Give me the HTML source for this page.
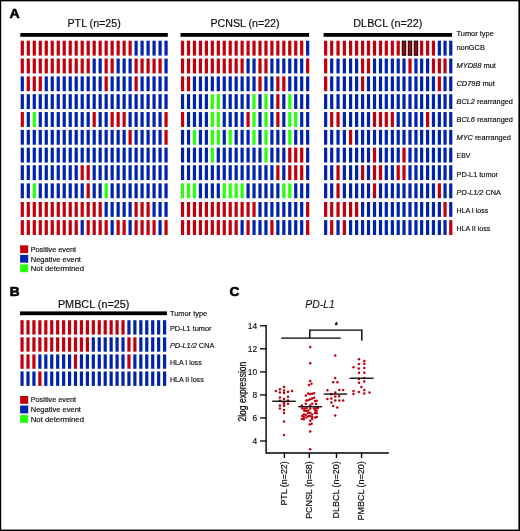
<!DOCTYPE html>
<html lang="en">
<head>
<meta charset="utf-8">
<title>Figure: tumor characteristics and PD-L1 expression</title>
<style>
html,body{margin:0;padding:0;background:#fff;}
body{width:520px;height:531px;overflow:hidden;}
svg{display:block;font-family:"Liberation Sans", sans-serif;}
</style>
</head>
<body>
<svg width="520" height="531" viewBox="0 0 520 531">
<rect x="0" y="0" width="520" height="531" fill="#fff"/>
<rect x="0" y="0" width="520" height="1.35" fill="#000"/>
<rect x="0" y="0" width="1.2" height="531" fill="#000"/>
<rect x="518.4" y="0" width="1.6" height="531" fill="#000"/>
<rect x="0" y="529.55" width="520" height="1.45" fill="#000"/>
<text transform="translate(9.40,18.40) scale(0.14124,0.13000)" font-size="100" font-weight="bold" font-style="normal" fill="#000" stroke="#000" stroke-width="4.6" stroke-linejoin="round" >A</text>
<rect x="20.3" y="33" width="147.50" height="3.8" fill="#000"/>
<text transform="translate(67.50,27.30) scale(0.10674,0.11700)" font-size="100" font-weight="normal" font-style="normal" fill="#111" stroke="#111" stroke-width="1.7" stroke-linejoin="round" >PTL (n=25)</text>
<rect x="180.5" y="33" width="128.60" height="3.8" fill="#000"/>
<text transform="translate(210.50,27.30) scale(0.10641,0.11700)" font-size="100" font-weight="normal" font-style="normal" fill="#111" stroke="#111" stroke-width="1.7" stroke-linejoin="round" >PCNSL (n=22)</text>
<rect x="323.6" y="33" width="128.50" height="3.8" fill="#000"/>
<text transform="translate(353.30,27.30) scale(0.10841,0.11700)" font-size="100" font-weight="normal" font-style="normal" fill="#111" stroke="#111" stroke-width="1.7" stroke-linejoin="round" >DLBCL (n=22)</text>
<rect x="20.70" y="40.70" width="3.2" height="14.9" fill="#c0000c"/>
<rect x="26.69" y="40.70" width="3.2" height="14.9" fill="#c0000c"/>
<rect x="32.68" y="40.70" width="3.2" height="14.9" fill="#c0000c"/>
<rect x="38.67" y="40.70" width="3.2" height="14.9" fill="#c0000c"/>
<rect x="44.66" y="40.70" width="3.2" height="14.9" fill="#c0000c"/>
<rect x="50.65" y="40.70" width="3.2" height="14.9" fill="#c0000c"/>
<rect x="56.64" y="40.70" width="3.2" height="14.9" fill="#c0000c"/>
<rect x="62.63" y="40.70" width="3.2" height="14.9" fill="#c0000c"/>
<rect x="68.62" y="40.70" width="3.2" height="14.9" fill="#c0000c"/>
<rect x="74.61" y="40.70" width="3.2" height="14.9" fill="#c0000c"/>
<rect x="80.60" y="40.70" width="3.2" height="14.9" fill="#c0000c"/>
<rect x="86.59" y="40.70" width="3.2" height="14.9" fill="#c0000c"/>
<rect x="92.58" y="40.70" width="3.2" height="14.9" fill="#c0000c"/>
<rect x="98.57" y="40.70" width="3.2" height="14.9" fill="#c0000c"/>
<rect x="104.56" y="40.70" width="3.2" height="14.9" fill="#c0000c"/>
<rect x="110.55" y="40.70" width="3.2" height="14.9" fill="#c0000c"/>
<rect x="116.54" y="40.70" width="3.2" height="14.9" fill="#c0000c"/>
<rect x="122.53" y="40.70" width="3.2" height="14.9" fill="#c0000c"/>
<rect x="128.52" y="40.70" width="3.2" height="14.9" fill="#c0000c"/>
<rect x="134.51" y="40.70" width="3.2" height="14.9" fill="#0023ac"/>
<rect x="140.50" y="40.70" width="3.2" height="14.9" fill="#0023ac"/>
<rect x="146.49" y="40.70" width="3.2" height="14.9" fill="#0023ac"/>
<rect x="152.48" y="40.70" width="3.2" height="14.9" fill="#0023ac"/>
<rect x="158.47" y="40.70" width="3.2" height="14.9" fill="#0023ac"/>
<rect x="164.46" y="40.70" width="3.2" height="14.9" fill="#0023ac"/>
<rect x="20.70" y="58.50" width="3.2" height="14.9" fill="#c0000c"/>
<rect x="26.69" y="58.50" width="3.2" height="14.9" fill="#c0000c"/>
<rect x="32.68" y="58.50" width="3.2" height="14.9" fill="#c0000c"/>
<rect x="38.67" y="58.50" width="3.2" height="14.9" fill="#c0000c"/>
<rect x="44.66" y="58.50" width="3.2" height="14.9" fill="#c0000c"/>
<rect x="50.65" y="58.50" width="3.2" height="14.9" fill="#c0000c"/>
<rect x="56.64" y="58.50" width="3.2" height="14.9" fill="#c0000c"/>
<rect x="62.63" y="58.50" width="3.2" height="14.9" fill="#c0000c"/>
<rect x="68.62" y="58.50" width="3.2" height="14.9" fill="#c0000c"/>
<rect x="74.61" y="58.50" width="3.2" height="14.9" fill="#c0000c"/>
<rect x="80.60" y="58.50" width="3.2" height="14.9" fill="#c0000c"/>
<rect x="86.59" y="58.50" width="3.2" height="14.9" fill="#c0000c"/>
<rect x="92.58" y="58.50" width="3.2" height="14.9" fill="#0023ac"/>
<rect x="98.57" y="58.50" width="3.2" height="14.9" fill="#0023ac"/>
<rect x="104.56" y="58.50" width="3.2" height="14.9" fill="#c0000c"/>
<rect x="110.55" y="58.50" width="3.2" height="14.9" fill="#c0000c"/>
<rect x="116.54" y="58.50" width="3.2" height="14.9" fill="#0023ac"/>
<rect x="122.53" y="58.50" width="3.2" height="14.9" fill="#0023ac"/>
<rect x="128.52" y="58.50" width="3.2" height="14.9" fill="#0023ac"/>
<rect x="134.51" y="58.50" width="3.2" height="14.9" fill="#c0000c"/>
<rect x="140.50" y="58.50" width="3.2" height="14.9" fill="#c0000c"/>
<rect x="146.49" y="58.50" width="3.2" height="14.9" fill="#c0000c"/>
<rect x="152.48" y="58.50" width="3.2" height="14.9" fill="#c0000c"/>
<rect x="158.47" y="58.50" width="3.2" height="14.9" fill="#c0000c"/>
<rect x="164.46" y="58.50" width="3.2" height="14.9" fill="#0023ac"/>
<rect x="20.70" y="76.35" width="3.2" height="14.9" fill="#0023ac"/>
<rect x="26.69" y="76.35" width="3.2" height="14.9" fill="#c0000c"/>
<rect x="32.68" y="76.35" width="3.2" height="14.9" fill="#c0000c"/>
<rect x="38.67" y="76.35" width="3.2" height="14.9" fill="#c0000c"/>
<rect x="44.66" y="76.35" width="3.2" height="14.9" fill="#0023ac"/>
<rect x="50.65" y="76.35" width="3.2" height="14.9" fill="#0023ac"/>
<rect x="56.64" y="76.35" width="3.2" height="14.9" fill="#0023ac"/>
<rect x="62.63" y="76.35" width="3.2" height="14.9" fill="#0023ac"/>
<rect x="68.62" y="76.35" width="3.2" height="14.9" fill="#0023ac"/>
<rect x="74.61" y="76.35" width="3.2" height="14.9" fill="#0023ac"/>
<rect x="80.60" y="76.35" width="3.2" height="14.9" fill="#0023ac"/>
<rect x="86.59" y="76.35" width="3.2" height="14.9" fill="#0023ac"/>
<rect x="92.58" y="76.35" width="3.2" height="14.9" fill="#0023ac"/>
<rect x="98.57" y="76.35" width="3.2" height="14.9" fill="#0023ac"/>
<rect x="104.56" y="76.35" width="3.2" height="14.9" fill="#c0000c"/>
<rect x="110.55" y="76.35" width="3.2" height="14.9" fill="#0023ac"/>
<rect x="116.54" y="76.35" width="3.2" height="14.9" fill="#0023ac"/>
<rect x="122.53" y="76.35" width="3.2" height="14.9" fill="#0023ac"/>
<rect x="128.52" y="76.35" width="3.2" height="14.9" fill="#0023ac"/>
<rect x="134.51" y="76.35" width="3.2" height="14.9" fill="#c0000c"/>
<rect x="140.50" y="76.35" width="3.2" height="14.9" fill="#0023ac"/>
<rect x="146.49" y="76.35" width="3.2" height="14.9" fill="#0023ac"/>
<rect x="152.48" y="76.35" width="3.2" height="14.9" fill="#0023ac"/>
<rect x="158.47" y="76.35" width="3.2" height="14.9" fill="#0023ac"/>
<rect x="164.46" y="76.35" width="3.2" height="14.9" fill="#0023ac"/>
<rect x="20.70" y="94.15" width="3.2" height="14.9" fill="#0023ac"/>
<rect x="26.69" y="94.15" width="3.2" height="14.9" fill="#0023ac"/>
<rect x="32.68" y="94.15" width="3.2" height="14.9" fill="#0023ac"/>
<rect x="38.67" y="94.15" width="3.2" height="14.9" fill="#0023ac"/>
<rect x="44.66" y="94.15" width="3.2" height="14.9" fill="#0023ac"/>
<rect x="50.65" y="94.15" width="3.2" height="14.9" fill="#0023ac"/>
<rect x="56.64" y="94.15" width="3.2" height="14.9" fill="#0023ac"/>
<rect x="62.63" y="94.15" width="3.2" height="14.9" fill="#0023ac"/>
<rect x="68.62" y="94.15" width="3.2" height="14.9" fill="#0023ac"/>
<rect x="74.61" y="94.15" width="3.2" height="14.9" fill="#0023ac"/>
<rect x="80.60" y="94.15" width="3.2" height="14.9" fill="#0023ac"/>
<rect x="86.59" y="94.15" width="3.2" height="14.9" fill="#0023ac"/>
<rect x="92.58" y="94.15" width="3.2" height="14.9" fill="#0023ac"/>
<rect x="98.57" y="94.15" width="3.2" height="14.9" fill="#0023ac"/>
<rect x="104.56" y="94.15" width="3.2" height="14.9" fill="#0023ac"/>
<rect x="110.55" y="94.15" width="3.2" height="14.9" fill="#0023ac"/>
<rect x="116.54" y="94.15" width="3.2" height="14.9" fill="#0023ac"/>
<rect x="122.53" y="94.15" width="3.2" height="14.9" fill="#0023ac"/>
<rect x="128.52" y="94.15" width="3.2" height="14.9" fill="#0023ac"/>
<rect x="134.51" y="94.15" width="3.2" height="14.9" fill="#0023ac"/>
<rect x="140.50" y="94.15" width="3.2" height="14.9" fill="#0023ac"/>
<rect x="146.49" y="94.15" width="3.2" height="14.9" fill="#0023ac"/>
<rect x="152.48" y="94.15" width="3.2" height="14.9" fill="#0023ac"/>
<rect x="158.47" y="94.15" width="3.2" height="14.9" fill="#0023ac"/>
<rect x="164.46" y="94.15" width="3.2" height="14.9" fill="#0023ac"/>
<rect x="20.70" y="112.05" width="3.2" height="14.9" fill="#c0000c"/>
<rect x="26.69" y="112.05" width="3.2" height="14.9" fill="#0023ac"/>
<rect x="32.68" y="112.05" width="3.2" height="14.9" fill="#28ff0c"/>
<rect x="38.67" y="112.05" width="3.2" height="14.9" fill="#0023ac"/>
<rect x="44.66" y="112.05" width="3.2" height="14.9" fill="#0023ac"/>
<rect x="50.65" y="112.05" width="3.2" height="14.9" fill="#0023ac"/>
<rect x="56.64" y="112.05" width="3.2" height="14.9" fill="#0023ac"/>
<rect x="62.63" y="112.05" width="3.2" height="14.9" fill="#0023ac"/>
<rect x="68.62" y="112.05" width="3.2" height="14.9" fill="#0023ac"/>
<rect x="74.61" y="112.05" width="3.2" height="14.9" fill="#0023ac"/>
<rect x="80.60" y="112.05" width="3.2" height="14.9" fill="#0023ac"/>
<rect x="86.59" y="112.05" width="3.2" height="14.9" fill="#0023ac"/>
<rect x="92.58" y="112.05" width="3.2" height="14.9" fill="#c0000c"/>
<rect x="98.57" y="112.05" width="3.2" height="14.9" fill="#0023ac"/>
<rect x="104.56" y="112.05" width="3.2" height="14.9" fill="#0023ac"/>
<rect x="110.55" y="112.05" width="3.2" height="14.9" fill="#c0000c"/>
<rect x="116.54" y="112.05" width="3.2" height="14.9" fill="#c0000c"/>
<rect x="122.53" y="112.05" width="3.2" height="14.9" fill="#c0000c"/>
<rect x="128.52" y="112.05" width="3.2" height="14.9" fill="#0023ac"/>
<rect x="134.51" y="112.05" width="3.2" height="14.9" fill="#0023ac"/>
<rect x="140.50" y="112.05" width="3.2" height="14.9" fill="#0023ac"/>
<rect x="146.49" y="112.05" width="3.2" height="14.9" fill="#0023ac"/>
<rect x="152.48" y="112.05" width="3.2" height="14.9" fill="#0023ac"/>
<rect x="158.47" y="112.05" width="3.2" height="14.9" fill="#0023ac"/>
<rect x="164.46" y="112.05" width="3.2" height="14.9" fill="#c0000c"/>
<rect x="20.70" y="129.85" width="3.2" height="14.9" fill="#0023ac"/>
<rect x="26.69" y="129.85" width="3.2" height="14.9" fill="#0023ac"/>
<rect x="32.68" y="129.85" width="3.2" height="14.9" fill="#0023ac"/>
<rect x="38.67" y="129.85" width="3.2" height="14.9" fill="#0023ac"/>
<rect x="44.66" y="129.85" width="3.2" height="14.9" fill="#0023ac"/>
<rect x="50.65" y="129.85" width="3.2" height="14.9" fill="#0023ac"/>
<rect x="56.64" y="129.85" width="3.2" height="14.9" fill="#0023ac"/>
<rect x="62.63" y="129.85" width="3.2" height="14.9" fill="#0023ac"/>
<rect x="68.62" y="129.85" width="3.2" height="14.9" fill="#0023ac"/>
<rect x="74.61" y="129.85" width="3.2" height="14.9" fill="#0023ac"/>
<rect x="80.60" y="129.85" width="3.2" height="14.9" fill="#0023ac"/>
<rect x="86.59" y="129.85" width="3.2" height="14.9" fill="#0023ac"/>
<rect x="92.58" y="129.85" width="3.2" height="14.9" fill="#0023ac"/>
<rect x="98.57" y="129.85" width="3.2" height="14.9" fill="#0023ac"/>
<rect x="104.56" y="129.85" width="3.2" height="14.9" fill="#0023ac"/>
<rect x="110.55" y="129.85" width="3.2" height="14.9" fill="#0023ac"/>
<rect x="116.54" y="129.85" width="3.2" height="14.9" fill="#0023ac"/>
<rect x="122.53" y="129.85" width="3.2" height="14.9" fill="#0023ac"/>
<rect x="128.52" y="129.85" width="3.2" height="14.9" fill="#c0000c"/>
<rect x="134.51" y="129.85" width="3.2" height="14.9" fill="#0023ac"/>
<rect x="140.50" y="129.85" width="3.2" height="14.9" fill="#0023ac"/>
<rect x="146.49" y="129.85" width="3.2" height="14.9" fill="#0023ac"/>
<rect x="152.48" y="129.85" width="3.2" height="14.9" fill="#0023ac"/>
<rect x="158.47" y="129.85" width="3.2" height="14.9" fill="#0023ac"/>
<rect x="164.46" y="129.85" width="3.2" height="14.9" fill="#c0000c"/>
<rect x="20.70" y="147.65" width="3.2" height="14.9" fill="#0023ac"/>
<rect x="26.69" y="147.65" width="3.2" height="14.9" fill="#0023ac"/>
<rect x="32.68" y="147.65" width="3.2" height="14.9" fill="#0023ac"/>
<rect x="38.67" y="147.65" width="3.2" height="14.9" fill="#0023ac"/>
<rect x="44.66" y="147.65" width="3.2" height="14.9" fill="#0023ac"/>
<rect x="50.65" y="147.65" width="3.2" height="14.9" fill="#0023ac"/>
<rect x="56.64" y="147.65" width="3.2" height="14.9" fill="#0023ac"/>
<rect x="62.63" y="147.65" width="3.2" height="14.9" fill="#0023ac"/>
<rect x="68.62" y="147.65" width="3.2" height="14.9" fill="#0023ac"/>
<rect x="74.61" y="147.65" width="3.2" height="14.9" fill="#0023ac"/>
<rect x="80.60" y="147.65" width="3.2" height="14.9" fill="#0023ac"/>
<rect x="86.59" y="147.65" width="3.2" height="14.9" fill="#0023ac"/>
<rect x="92.58" y="147.65" width="3.2" height="14.9" fill="#0023ac"/>
<rect x="98.57" y="147.65" width="3.2" height="14.9" fill="#0023ac"/>
<rect x="104.56" y="147.65" width="3.2" height="14.9" fill="#0023ac"/>
<rect x="110.55" y="147.65" width="3.2" height="14.9" fill="#0023ac"/>
<rect x="116.54" y="147.65" width="3.2" height="14.9" fill="#0023ac"/>
<rect x="122.53" y="147.65" width="3.2" height="14.9" fill="#0023ac"/>
<rect x="128.52" y="147.65" width="3.2" height="14.9" fill="#0023ac"/>
<rect x="134.51" y="147.65" width="3.2" height="14.9" fill="#0023ac"/>
<rect x="140.50" y="147.65" width="3.2" height="14.9" fill="#0023ac"/>
<rect x="146.49" y="147.65" width="3.2" height="14.9" fill="#0023ac"/>
<rect x="152.48" y="147.65" width="3.2" height="14.9" fill="#0023ac"/>
<rect x="158.47" y="147.65" width="3.2" height="14.9" fill="#0023ac"/>
<rect x="164.46" y="147.65" width="3.2" height="14.9" fill="#0023ac"/>
<rect x="20.70" y="165.20" width="3.2" height="14.9" fill="#0023ac"/>
<rect x="26.69" y="165.20" width="3.2" height="14.9" fill="#0023ac"/>
<rect x="32.68" y="165.20" width="3.2" height="14.9" fill="#0023ac"/>
<rect x="38.67" y="165.20" width="3.2" height="14.9" fill="#0023ac"/>
<rect x="44.66" y="165.20" width="3.2" height="14.9" fill="#0023ac"/>
<rect x="50.65" y="165.20" width="3.2" height="14.9" fill="#0023ac"/>
<rect x="56.64" y="165.20" width="3.2" height="14.9" fill="#0023ac"/>
<rect x="62.63" y="165.20" width="3.2" height="14.9" fill="#0023ac"/>
<rect x="68.62" y="165.20" width="3.2" height="14.9" fill="#0023ac"/>
<rect x="74.61" y="165.20" width="3.2" height="14.9" fill="#0023ac"/>
<rect x="80.60" y="165.20" width="3.2" height="14.9" fill="#c0000c"/>
<rect x="86.59" y="165.20" width="3.2" height="14.9" fill="#c0000c"/>
<rect x="92.58" y="165.20" width="3.2" height="14.9" fill="#0023ac"/>
<rect x="98.57" y="165.20" width="3.2" height="14.9" fill="#0023ac"/>
<rect x="104.56" y="165.20" width="3.2" height="14.9" fill="#0023ac"/>
<rect x="110.55" y="165.20" width="3.2" height="14.9" fill="#0023ac"/>
<rect x="116.54" y="165.20" width="3.2" height="14.9" fill="#0023ac"/>
<rect x="122.53" y="165.20" width="3.2" height="14.9" fill="#0023ac"/>
<rect x="128.52" y="165.20" width="3.2" height="14.9" fill="#0023ac"/>
<rect x="134.51" y="165.20" width="3.2" height="14.9" fill="#0023ac"/>
<rect x="140.50" y="165.20" width="3.2" height="14.9" fill="#0023ac"/>
<rect x="146.49" y="165.20" width="3.2" height="14.9" fill="#0023ac"/>
<rect x="152.48" y="165.20" width="3.2" height="14.9" fill="#0023ac"/>
<rect x="158.47" y="165.20" width="3.2" height="14.9" fill="#0023ac"/>
<rect x="164.46" y="165.20" width="3.2" height="14.9" fill="#0023ac"/>
<rect x="20.70" y="183.35" width="3.2" height="14.9" fill="#0023ac"/>
<rect x="26.69" y="183.35" width="3.2" height="14.9" fill="#0023ac"/>
<rect x="32.68" y="183.35" width="3.2" height="14.9" fill="#28ff0c"/>
<rect x="38.67" y="183.35" width="3.2" height="14.9" fill="#0023ac"/>
<rect x="44.66" y="183.35" width="3.2" height="14.9" fill="#0023ac"/>
<rect x="50.65" y="183.35" width="3.2" height="14.9" fill="#0023ac"/>
<rect x="56.64" y="183.35" width="3.2" height="14.9" fill="#0023ac"/>
<rect x="62.63" y="183.35" width="3.2" height="14.9" fill="#0023ac"/>
<rect x="68.62" y="183.35" width="3.2" height="14.9" fill="#0023ac"/>
<rect x="74.61" y="183.35" width="3.2" height="14.9" fill="#0023ac"/>
<rect x="80.60" y="183.35" width="3.2" height="14.9" fill="#0023ac"/>
<rect x="86.59" y="183.35" width="3.2" height="14.9" fill="#c0000c"/>
<rect x="92.58" y="183.35" width="3.2" height="14.9" fill="#0023ac"/>
<rect x="98.57" y="183.35" width="3.2" height="14.9" fill="#0023ac"/>
<rect x="104.56" y="183.35" width="3.2" height="14.9" fill="#28ff0c"/>
<rect x="110.55" y="183.35" width="3.2" height="14.9" fill="#0023ac"/>
<rect x="116.54" y="183.35" width="3.2" height="14.9" fill="#0023ac"/>
<rect x="122.53" y="183.35" width="3.2" height="14.9" fill="#0023ac"/>
<rect x="128.52" y="183.35" width="3.2" height="14.9" fill="#0023ac"/>
<rect x="134.51" y="183.35" width="3.2" height="14.9" fill="#0023ac"/>
<rect x="140.50" y="183.35" width="3.2" height="14.9" fill="#0023ac"/>
<rect x="146.49" y="183.35" width="3.2" height="14.9" fill="#0023ac"/>
<rect x="152.48" y="183.35" width="3.2" height="14.9" fill="#0023ac"/>
<rect x="158.47" y="183.35" width="3.2" height="14.9" fill="#0023ac"/>
<rect x="164.46" y="183.35" width="3.2" height="14.9" fill="#0023ac"/>
<rect x="20.70" y="202.00" width="3.2" height="14.9" fill="#c0000c"/>
<rect x="26.69" y="202.00" width="3.2" height="14.9" fill="#c0000c"/>
<rect x="32.68" y="202.00" width="3.2" height="14.9" fill="#c0000c"/>
<rect x="38.67" y="202.00" width="3.2" height="14.9" fill="#c0000c"/>
<rect x="44.66" y="202.00" width="3.2" height="14.9" fill="#c0000c"/>
<rect x="50.65" y="202.00" width="3.2" height="14.9" fill="#c0000c"/>
<rect x="56.64" y="202.00" width="3.2" height="14.9" fill="#c0000c"/>
<rect x="62.63" y="202.00" width="3.2" height="14.9" fill="#c0000c"/>
<rect x="68.62" y="202.00" width="3.2" height="14.9" fill="#c0000c"/>
<rect x="74.61" y="202.00" width="3.2" height="14.9" fill="#c0000c"/>
<rect x="80.60" y="202.00" width="3.2" height="14.9" fill="#c0000c"/>
<rect x="86.59" y="202.00" width="3.2" height="14.9" fill="#c0000c"/>
<rect x="92.58" y="202.00" width="3.2" height="14.9" fill="#c0000c"/>
<rect x="98.57" y="202.00" width="3.2" height="14.9" fill="#c0000c"/>
<rect x="104.56" y="202.00" width="3.2" height="14.9" fill="#0023ac"/>
<rect x="110.55" y="202.00" width="3.2" height="14.9" fill="#0023ac"/>
<rect x="116.54" y="202.00" width="3.2" height="14.9" fill="#0023ac"/>
<rect x="122.53" y="202.00" width="3.2" height="14.9" fill="#0023ac"/>
<rect x="128.52" y="202.00" width="3.2" height="14.9" fill="#0023ac"/>
<rect x="134.51" y="202.00" width="3.2" height="14.9" fill="#c0000c"/>
<rect x="140.50" y="202.00" width="3.2" height="14.9" fill="#c0000c"/>
<rect x="146.49" y="202.00" width="3.2" height="14.9" fill="#c0000c"/>
<rect x="152.48" y="202.00" width="3.2" height="14.9" fill="#0023ac"/>
<rect x="158.47" y="202.00" width="3.2" height="14.9" fill="#0023ac"/>
<rect x="164.46" y="202.00" width="3.2" height="14.9" fill="#0023ac"/>
<rect x="20.70" y="220.10" width="3.2" height="14.9" fill="#c0000c"/>
<rect x="26.69" y="220.10" width="3.2" height="14.9" fill="#c0000c"/>
<rect x="32.68" y="220.10" width="3.2" height="14.9" fill="#c0000c"/>
<rect x="38.67" y="220.10" width="3.2" height="14.9" fill="#c0000c"/>
<rect x="44.66" y="220.10" width="3.2" height="14.9" fill="#c0000c"/>
<rect x="50.65" y="220.10" width="3.2" height="14.9" fill="#c0000c"/>
<rect x="56.64" y="220.10" width="3.2" height="14.9" fill="#c0000c"/>
<rect x="62.63" y="220.10" width="3.2" height="14.9" fill="#c0000c"/>
<rect x="68.62" y="220.10" width="3.2" height="14.9" fill="#c0000c"/>
<rect x="74.61" y="220.10" width="3.2" height="14.9" fill="#c0000c"/>
<rect x="80.60" y="220.10" width="3.2" height="14.9" fill="#0023ac"/>
<rect x="86.59" y="220.10" width="3.2" height="14.9" fill="#c0000c"/>
<rect x="92.58" y="220.10" width="3.2" height="14.9" fill="#c0000c"/>
<rect x="98.57" y="220.10" width="3.2" height="14.9" fill="#c0000c"/>
<rect x="104.56" y="220.10" width="3.2" height="14.9" fill="#c0000c"/>
<rect x="110.55" y="220.10" width="3.2" height="14.9" fill="#0023ac"/>
<rect x="116.54" y="220.10" width="3.2" height="14.9" fill="#c0000c"/>
<rect x="122.53" y="220.10" width="3.2" height="14.9" fill="#c0000c"/>
<rect x="128.52" y="220.10" width="3.2" height="14.9" fill="#0023ac"/>
<rect x="134.51" y="220.10" width="3.2" height="14.9" fill="#c0000c"/>
<rect x="140.50" y="220.10" width="3.2" height="14.9" fill="#c0000c"/>
<rect x="146.49" y="220.10" width="3.2" height="14.9" fill="#c0000c"/>
<rect x="152.48" y="220.10" width="3.2" height="14.9" fill="#c0000c"/>
<rect x="158.47" y="220.10" width="3.2" height="14.9" fill="#0023ac"/>
<rect x="164.46" y="220.10" width="3.2" height="14.9" fill="#c0000c"/>
<rect x="180.95" y="40.70" width="3.2" height="14.9" fill="#c0000c"/>
<rect x="186.91" y="40.70" width="3.2" height="14.9" fill="#c0000c"/>
<rect x="192.86" y="40.70" width="3.2" height="14.9" fill="#c0000c"/>
<rect x="198.82" y="40.70" width="3.2" height="14.9" fill="#c0000c"/>
<rect x="204.78" y="40.70" width="3.2" height="14.9" fill="#c0000c"/>
<rect x="210.73" y="40.70" width="3.2" height="14.9" fill="#c0000c"/>
<rect x="216.69" y="40.70" width="3.2" height="14.9" fill="#c0000c"/>
<rect x="222.65" y="40.70" width="3.2" height="14.9" fill="#c0000c"/>
<rect x="228.61" y="40.70" width="3.2" height="14.9" fill="#c0000c"/>
<rect x="234.56" y="40.70" width="3.2" height="14.9" fill="#c0000c"/>
<rect x="240.52" y="40.70" width="3.2" height="14.9" fill="#c0000c"/>
<rect x="246.48" y="40.70" width="3.2" height="14.9" fill="#c0000c"/>
<rect x="252.43" y="40.70" width="3.2" height="14.9" fill="#c0000c"/>
<rect x="258.39" y="40.70" width="3.2" height="14.9" fill="#c0000c"/>
<rect x="264.35" y="40.70" width="3.2" height="14.9" fill="#c0000c"/>
<rect x="270.31" y="40.70" width="3.2" height="14.9" fill="#c0000c"/>
<rect x="276.26" y="40.70" width="3.2" height="14.9" fill="#c0000c"/>
<rect x="282.22" y="40.70" width="3.2" height="14.9" fill="#c0000c"/>
<rect x="288.18" y="40.70" width="3.2" height="14.9" fill="#c0000c"/>
<rect x="294.13" y="40.70" width="3.2" height="14.9" fill="#c0000c"/>
<rect x="300.09" y="40.70" width="3.2" height="14.9" fill="#c0000c"/>
<rect x="306.05" y="40.70" width="3.2" height="14.9" fill="#0023ac"/>
<rect x="180.95" y="58.50" width="3.2" height="14.9" fill="#c0000c"/>
<rect x="186.91" y="58.50" width="3.2" height="14.9" fill="#c0000c"/>
<rect x="192.86" y="58.50" width="3.2" height="14.9" fill="#c0000c"/>
<rect x="198.82" y="58.50" width="3.2" height="14.9" fill="#c0000c"/>
<rect x="204.78" y="58.50" width="3.2" height="14.9" fill="#c0000c"/>
<rect x="210.73" y="58.50" width="3.2" height="14.9" fill="#c0000c"/>
<rect x="216.69" y="58.50" width="3.2" height="14.9" fill="#c0000c"/>
<rect x="222.65" y="58.50" width="3.2" height="14.9" fill="#c0000c"/>
<rect x="228.61" y="58.50" width="3.2" height="14.9" fill="#c0000c"/>
<rect x="234.56" y="58.50" width="3.2" height="14.9" fill="#c0000c"/>
<rect x="240.52" y="58.50" width="3.2" height="14.9" fill="#c0000c"/>
<rect x="246.48" y="58.50" width="3.2" height="14.9" fill="#0023ac"/>
<rect x="252.43" y="58.50" width="3.2" height="14.9" fill="#0023ac"/>
<rect x="258.39" y="58.50" width="3.2" height="14.9" fill="#c0000c"/>
<rect x="264.35" y="58.50" width="3.2" height="14.9" fill="#c0000c"/>
<rect x="270.31" y="58.50" width="3.2" height="14.9" fill="#0023ac"/>
<rect x="276.26" y="58.50" width="3.2" height="14.9" fill="#0023ac"/>
<rect x="282.22" y="58.50" width="3.2" height="14.9" fill="#0023ac"/>
<rect x="288.18" y="58.50" width="3.2" height="14.9" fill="#0023ac"/>
<rect x="294.13" y="58.50" width="3.2" height="14.9" fill="#0023ac"/>
<rect x="300.09" y="58.50" width="3.2" height="14.9" fill="#0023ac"/>
<rect x="306.05" y="58.50" width="3.2" height="14.9" fill="#c0000c"/>
<rect x="180.95" y="76.35" width="3.2" height="14.9" fill="#c0000c"/>
<rect x="186.91" y="76.35" width="3.2" height="14.9" fill="#c0000c"/>
<rect x="192.86" y="76.35" width="3.2" height="14.9" fill="#0023ac"/>
<rect x="198.82" y="76.35" width="3.2" height="14.9" fill="#0023ac"/>
<rect x="204.78" y="76.35" width="3.2" height="14.9" fill="#0023ac"/>
<rect x="210.73" y="76.35" width="3.2" height="14.9" fill="#0023ac"/>
<rect x="216.69" y="76.35" width="3.2" height="14.9" fill="#0023ac"/>
<rect x="222.65" y="76.35" width="3.2" height="14.9" fill="#0023ac"/>
<rect x="228.61" y="76.35" width="3.2" height="14.9" fill="#0023ac"/>
<rect x="234.56" y="76.35" width="3.2" height="14.9" fill="#0023ac"/>
<rect x="240.52" y="76.35" width="3.2" height="14.9" fill="#0023ac"/>
<rect x="246.48" y="76.35" width="3.2" height="14.9" fill="#0023ac"/>
<rect x="252.43" y="76.35" width="3.2" height="14.9" fill="#0023ac"/>
<rect x="258.39" y="76.35" width="3.2" height="14.9" fill="#c0000c"/>
<rect x="264.35" y="76.35" width="3.2" height="14.9" fill="#0023ac"/>
<rect x="270.31" y="76.35" width="3.2" height="14.9" fill="#0023ac"/>
<rect x="276.26" y="76.35" width="3.2" height="14.9" fill="#c0000c"/>
<rect x="282.22" y="76.35" width="3.2" height="14.9" fill="#c0000c"/>
<rect x="288.18" y="76.35" width="3.2" height="14.9" fill="#0023ac"/>
<rect x="294.13" y="76.35" width="3.2" height="14.9" fill="#0023ac"/>
<rect x="300.09" y="76.35" width="3.2" height="14.9" fill="#0023ac"/>
<rect x="306.05" y="76.35" width="3.2" height="14.9" fill="#0023ac"/>
<rect x="180.95" y="94.15" width="3.2" height="14.9" fill="#0023ac"/>
<rect x="186.91" y="94.15" width="3.2" height="14.9" fill="#0023ac"/>
<rect x="192.86" y="94.15" width="3.2" height="14.9" fill="#0023ac"/>
<rect x="198.82" y="94.15" width="3.2" height="14.9" fill="#0023ac"/>
<rect x="204.78" y="94.15" width="3.2" height="14.9" fill="#0023ac"/>
<rect x="210.73" y="94.15" width="3.2" height="14.9" fill="#28ff0c"/>
<rect x="216.69" y="94.15" width="3.2" height="14.9" fill="#28ff0c"/>
<rect x="222.65" y="94.15" width="3.2" height="14.9" fill="#0023ac"/>
<rect x="228.61" y="94.15" width="3.2" height="14.9" fill="#0023ac"/>
<rect x="234.56" y="94.15" width="3.2" height="14.9" fill="#0023ac"/>
<rect x="240.52" y="94.15" width="3.2" height="14.9" fill="#0023ac"/>
<rect x="246.48" y="94.15" width="3.2" height="14.9" fill="#0023ac"/>
<rect x="252.43" y="94.15" width="3.2" height="14.9" fill="#28ff0c"/>
<rect x="258.39" y="94.15" width="3.2" height="14.9" fill="#0023ac"/>
<rect x="264.35" y="94.15" width="3.2" height="14.9" fill="#28ff0c"/>
<rect x="270.31" y="94.15" width="3.2" height="14.9" fill="#0023ac"/>
<rect x="276.26" y="94.15" width="3.2" height="14.9" fill="#c0000c"/>
<rect x="282.22" y="94.15" width="3.2" height="14.9" fill="#0023ac"/>
<rect x="288.18" y="94.15" width="3.2" height="14.9" fill="#28ff0c"/>
<rect x="294.13" y="94.15" width="3.2" height="14.9" fill="#0023ac"/>
<rect x="300.09" y="94.15" width="3.2" height="14.9" fill="#0023ac"/>
<rect x="306.05" y="94.15" width="3.2" height="14.9" fill="#0023ac"/>
<rect x="180.95" y="112.05" width="3.2" height="14.9" fill="#c0000c"/>
<rect x="186.91" y="112.05" width="3.2" height="14.9" fill="#0023ac"/>
<rect x="192.86" y="112.05" width="3.2" height="14.9" fill="#0023ac"/>
<rect x="198.82" y="112.05" width="3.2" height="14.9" fill="#0023ac"/>
<rect x="204.78" y="112.05" width="3.2" height="14.9" fill="#0023ac"/>
<rect x="210.73" y="112.05" width="3.2" height="14.9" fill="#28ff0c"/>
<rect x="216.69" y="112.05" width="3.2" height="14.9" fill="#28ff0c"/>
<rect x="222.65" y="112.05" width="3.2" height="14.9" fill="#0023ac"/>
<rect x="228.61" y="112.05" width="3.2" height="14.9" fill="#0023ac"/>
<rect x="234.56" y="112.05" width="3.2" height="14.9" fill="#0023ac"/>
<rect x="240.52" y="112.05" width="3.2" height="14.9" fill="#0023ac"/>
<rect x="246.48" y="112.05" width="3.2" height="14.9" fill="#c0000c"/>
<rect x="252.43" y="112.05" width="3.2" height="14.9" fill="#28ff0c"/>
<rect x="258.39" y="112.05" width="3.2" height="14.9" fill="#0023ac"/>
<rect x="264.35" y="112.05" width="3.2" height="14.9" fill="#28ff0c"/>
<rect x="270.31" y="112.05" width="3.2" height="14.9" fill="#0023ac"/>
<rect x="276.26" y="112.05" width="3.2" height="14.9" fill="#c0000c"/>
<rect x="282.22" y="112.05" width="3.2" height="14.9" fill="#0023ac"/>
<rect x="288.18" y="112.05" width="3.2" height="14.9" fill="#28ff0c"/>
<rect x="294.13" y="112.05" width="3.2" height="14.9" fill="#28ff0c"/>
<rect x="300.09" y="112.05" width="3.2" height="14.9" fill="#0023ac"/>
<rect x="306.05" y="112.05" width="3.2" height="14.9" fill="#0023ac"/>
<rect x="180.95" y="129.85" width="3.2" height="14.9" fill="#0023ac"/>
<rect x="186.91" y="129.85" width="3.2" height="14.9" fill="#0023ac"/>
<rect x="192.86" y="129.85" width="3.2" height="14.9" fill="#28ff0c"/>
<rect x="198.82" y="129.85" width="3.2" height="14.9" fill="#0023ac"/>
<rect x="204.78" y="129.85" width="3.2" height="14.9" fill="#0023ac"/>
<rect x="210.73" y="129.85" width="3.2" height="14.9" fill="#28ff0c"/>
<rect x="216.69" y="129.85" width="3.2" height="14.9" fill="#28ff0c"/>
<rect x="222.65" y="129.85" width="3.2" height="14.9" fill="#0023ac"/>
<rect x="228.61" y="129.85" width="3.2" height="14.9" fill="#28ff0c"/>
<rect x="234.56" y="129.85" width="3.2" height="14.9" fill="#0023ac"/>
<rect x="240.52" y="129.85" width="3.2" height="14.9" fill="#0023ac"/>
<rect x="246.48" y="129.85" width="3.2" height="14.9" fill="#0023ac"/>
<rect x="252.43" y="129.85" width="3.2" height="14.9" fill="#28ff0c"/>
<rect x="258.39" y="129.85" width="3.2" height="14.9" fill="#0023ac"/>
<rect x="264.35" y="129.85" width="3.2" height="14.9" fill="#28ff0c"/>
<rect x="270.31" y="129.85" width="3.2" height="14.9" fill="#0023ac"/>
<rect x="276.26" y="129.85" width="3.2" height="14.9" fill="#0023ac"/>
<rect x="282.22" y="129.85" width="3.2" height="14.9" fill="#0023ac"/>
<rect x="288.18" y="129.85" width="3.2" height="14.9" fill="#28ff0c"/>
<rect x="294.13" y="129.85" width="3.2" height="14.9" fill="#0023ac"/>
<rect x="300.09" y="129.85" width="3.2" height="14.9" fill="#0023ac"/>
<rect x="306.05" y="129.85" width="3.2" height="14.9" fill="#0023ac"/>
<rect x="180.95" y="147.65" width="3.2" height="14.9" fill="#0023ac"/>
<rect x="186.91" y="147.65" width="3.2" height="14.9" fill="#0023ac"/>
<rect x="192.86" y="147.65" width="3.2" height="14.9" fill="#0023ac"/>
<rect x="198.82" y="147.65" width="3.2" height="14.9" fill="#0023ac"/>
<rect x="204.78" y="147.65" width="3.2" height="14.9" fill="#0023ac"/>
<rect x="210.73" y="147.65" width="3.2" height="14.9" fill="#28ff0c"/>
<rect x="216.69" y="147.65" width="3.2" height="14.9" fill="#0023ac"/>
<rect x="222.65" y="147.65" width="3.2" height="14.9" fill="#0023ac"/>
<rect x="228.61" y="147.65" width="3.2" height="14.9" fill="#0023ac"/>
<rect x="234.56" y="147.65" width="3.2" height="14.9" fill="#0023ac"/>
<rect x="240.52" y="147.65" width="3.2" height="14.9" fill="#0023ac"/>
<rect x="246.48" y="147.65" width="3.2" height="14.9" fill="#0023ac"/>
<rect x="252.43" y="147.65" width="3.2" height="14.9" fill="#0023ac"/>
<rect x="258.39" y="147.65" width="3.2" height="14.9" fill="#0023ac"/>
<rect x="264.35" y="147.65" width="3.2" height="14.9" fill="#28ff0c"/>
<rect x="270.31" y="147.65" width="3.2" height="14.9" fill="#0023ac"/>
<rect x="276.26" y="147.65" width="3.2" height="14.9" fill="#0023ac"/>
<rect x="282.22" y="147.65" width="3.2" height="14.9" fill="#0023ac"/>
<rect x="288.18" y="147.65" width="3.2" height="14.9" fill="#c0000c"/>
<rect x="294.13" y="147.65" width="3.2" height="14.9" fill="#c0000c"/>
<rect x="300.09" y="147.65" width="3.2" height="14.9" fill="#c0000c"/>
<rect x="306.05" y="147.65" width="3.2" height="14.9" fill="#0023ac"/>
<rect x="180.95" y="165.20" width="3.2" height="14.9" fill="#0023ac"/>
<rect x="186.91" y="165.20" width="3.2" height="14.9" fill="#0023ac"/>
<rect x="192.86" y="165.20" width="3.2" height="14.9" fill="#0023ac"/>
<rect x="198.82" y="165.20" width="3.2" height="14.9" fill="#0023ac"/>
<rect x="204.78" y="165.20" width="3.2" height="14.9" fill="#0023ac"/>
<rect x="210.73" y="165.20" width="3.2" height="14.9" fill="#0023ac"/>
<rect x="216.69" y="165.20" width="3.2" height="14.9" fill="#0023ac"/>
<rect x="222.65" y="165.20" width="3.2" height="14.9" fill="#0023ac"/>
<rect x="228.61" y="165.20" width="3.2" height="14.9" fill="#0023ac"/>
<rect x="234.56" y="165.20" width="3.2" height="14.9" fill="#0023ac"/>
<rect x="240.52" y="165.20" width="3.2" height="14.9" fill="#0023ac"/>
<rect x="246.48" y="165.20" width="3.2" height="14.9" fill="#0023ac"/>
<rect x="252.43" y="165.20" width="3.2" height="14.9" fill="#0023ac"/>
<rect x="258.39" y="165.20" width="3.2" height="14.9" fill="#0023ac"/>
<rect x="264.35" y="165.20" width="3.2" height="14.9" fill="#0023ac"/>
<rect x="270.31" y="165.20" width="3.2" height="14.9" fill="#0023ac"/>
<rect x="276.26" y="165.20" width="3.2" height="14.9" fill="#c0000c"/>
<rect x="282.22" y="165.20" width="3.2" height="14.9" fill="#0023ac"/>
<rect x="288.18" y="165.20" width="3.2" height="14.9" fill="#c0000c"/>
<rect x="294.13" y="165.20" width="3.2" height="14.9" fill="#c0000c"/>
<rect x="300.09" y="165.20" width="3.2" height="14.9" fill="#c0000c"/>
<rect x="306.05" y="165.20" width="3.2" height="14.9" fill="#0023ac"/>
<rect x="180.95" y="183.35" width="3.2" height="14.9" fill="#28ff0c"/>
<rect x="186.91" y="183.35" width="3.2" height="14.9" fill="#28ff0c"/>
<rect x="192.86" y="183.35" width="3.2" height="14.9" fill="#28ff0c"/>
<rect x="198.82" y="183.35" width="3.2" height="14.9" fill="#0023ac"/>
<rect x="204.78" y="183.35" width="3.2" height="14.9" fill="#0023ac"/>
<rect x="210.73" y="183.35" width="3.2" height="14.9" fill="#0023ac"/>
<rect x="216.69" y="183.35" width="3.2" height="14.9" fill="#0023ac"/>
<rect x="222.65" y="183.35" width="3.2" height="14.9" fill="#28ff0c"/>
<rect x="228.61" y="183.35" width="3.2" height="14.9" fill="#28ff0c"/>
<rect x="234.56" y="183.35" width="3.2" height="14.9" fill="#28ff0c"/>
<rect x="240.52" y="183.35" width="3.2" height="14.9" fill="#28ff0c"/>
<rect x="246.48" y="183.35" width="3.2" height="14.9" fill="#0023ac"/>
<rect x="252.43" y="183.35" width="3.2" height="14.9" fill="#0023ac"/>
<rect x="258.39" y="183.35" width="3.2" height="14.9" fill="#0023ac"/>
<rect x="264.35" y="183.35" width="3.2" height="14.9" fill="#0023ac"/>
<rect x="270.31" y="183.35" width="3.2" height="14.9" fill="#0023ac"/>
<rect x="276.26" y="183.35" width="3.2" height="14.9" fill="#0023ac"/>
<rect x="282.22" y="183.35" width="3.2" height="14.9" fill="#28ff0c"/>
<rect x="288.18" y="183.35" width="3.2" height="14.9" fill="#28ff0c"/>
<rect x="294.13" y="183.35" width="3.2" height="14.9" fill="#0023ac"/>
<rect x="300.09" y="183.35" width="3.2" height="14.9" fill="#0023ac"/>
<rect x="306.05" y="183.35" width="3.2" height="14.9" fill="#0023ac"/>
<rect x="180.95" y="202.00" width="3.2" height="14.9" fill="#c0000c"/>
<rect x="186.91" y="202.00" width="3.2" height="14.9" fill="#c0000c"/>
<rect x="192.86" y="202.00" width="3.2" height="14.9" fill="#c0000c"/>
<rect x="198.82" y="202.00" width="3.2" height="14.9" fill="#c0000c"/>
<rect x="204.78" y="202.00" width="3.2" height="14.9" fill="#c0000c"/>
<rect x="210.73" y="202.00" width="3.2" height="14.9" fill="#c0000c"/>
<rect x="216.69" y="202.00" width="3.2" height="14.9" fill="#c0000c"/>
<rect x="222.65" y="202.00" width="3.2" height="14.9" fill="#c0000c"/>
<rect x="228.61" y="202.00" width="3.2" height="14.9" fill="#c0000c"/>
<rect x="234.56" y="202.00" width="3.2" height="14.9" fill="#c0000c"/>
<rect x="240.52" y="202.00" width="3.2" height="14.9" fill="#c0000c"/>
<rect x="246.48" y="202.00" width="3.2" height="14.9" fill="#c0000c"/>
<rect x="252.43" y="202.00" width="3.2" height="14.9" fill="#c0000c"/>
<rect x="258.39" y="202.00" width="3.2" height="14.9" fill="#0023ac"/>
<rect x="264.35" y="202.00" width="3.2" height="14.9" fill="#0023ac"/>
<rect x="270.31" y="202.00" width="3.2" height="14.9" fill="#0023ac"/>
<rect x="276.26" y="202.00" width="3.2" height="14.9" fill="#0023ac"/>
<rect x="282.22" y="202.00" width="3.2" height="14.9" fill="#0023ac"/>
<rect x="288.18" y="202.00" width="3.2" height="14.9" fill="#0023ac"/>
<rect x="294.13" y="202.00" width="3.2" height="14.9" fill="#0023ac"/>
<rect x="300.09" y="202.00" width="3.2" height="14.9" fill="#0023ac"/>
<rect x="306.05" y="202.00" width="3.2" height="14.9" fill="#c0000c"/>
<rect x="180.95" y="220.10" width="3.2" height="14.9" fill="#c0000c"/>
<rect x="186.91" y="220.10" width="3.2" height="14.9" fill="#c0000c"/>
<rect x="192.86" y="220.10" width="3.2" height="14.9" fill="#c0000c"/>
<rect x="198.82" y="220.10" width="3.2" height="14.9" fill="#c0000c"/>
<rect x="204.78" y="220.10" width="3.2" height="14.9" fill="#c0000c"/>
<rect x="210.73" y="220.10" width="3.2" height="14.9" fill="#c0000c"/>
<rect x="216.69" y="220.10" width="3.2" height="14.9" fill="#c0000c"/>
<rect x="222.65" y="220.10" width="3.2" height="14.9" fill="#c0000c"/>
<rect x="228.61" y="220.10" width="3.2" height="14.9" fill="#c0000c"/>
<rect x="234.56" y="220.10" width="3.2" height="14.9" fill="#c0000c"/>
<rect x="240.52" y="220.10" width="3.2" height="14.9" fill="#0023ac"/>
<rect x="246.48" y="220.10" width="3.2" height="14.9" fill="#c0000c"/>
<rect x="252.43" y="220.10" width="3.2" height="14.9" fill="#0023ac"/>
<rect x="258.39" y="220.10" width="3.2" height="14.9" fill="#0023ac"/>
<rect x="264.35" y="220.10" width="3.2" height="14.9" fill="#0023ac"/>
<rect x="270.31" y="220.10" width="3.2" height="14.9" fill="#c0000c"/>
<rect x="276.26" y="220.10" width="3.2" height="14.9" fill="#0023ac"/>
<rect x="282.22" y="220.10" width="3.2" height="14.9" fill="#0023ac"/>
<rect x="288.18" y="220.10" width="3.2" height="14.9" fill="#0023ac"/>
<rect x="294.13" y="220.10" width="3.2" height="14.9" fill="#0023ac"/>
<rect x="300.09" y="220.10" width="3.2" height="14.9" fill="#0023ac"/>
<rect x="306.05" y="220.10" width="3.2" height="14.9" fill="#c0000c"/>
<rect x="324.05" y="40.70" width="3.2" height="14.9" fill="#c0000c"/>
<rect x="330.11" y="40.70" width="3.2" height="14.9" fill="#c0000c"/>
<rect x="336.43" y="40.70" width="3.2" height="14.9" fill="#c0000c"/>
<rect x="342.76" y="40.70" width="3.2" height="14.9" fill="#c0000c"/>
<rect x="349.00" y="40.70" width="3.2" height="14.9" fill="#c0000c"/>
<rect x="355.01" y="40.70" width="3.2" height="14.9" fill="#c0000c"/>
<rect x="361.00" y="40.70" width="3.2" height="14.9" fill="#c0000c"/>
<rect x="366.90" y="40.70" width="3.2" height="14.9" fill="#c0000c"/>
<rect x="372.91" y="40.70" width="3.2" height="14.9" fill="#c0000c"/>
<rect x="378.90" y="40.70" width="3.2" height="14.9" fill="#c0000c"/>
<rect x="384.70" y="40.70" width="3.2" height="14.9" fill="#c0000c"/>
<rect x="390.75" y="40.70" width="3.2" height="14.9" fill="#c0000c"/>
<rect x="396.60" y="40.70" width="3.2" height="14.9" fill="#c0000c"/>
<rect x="402.30" y="41.15" width="3.40" height="14.10" fill="#b2000c" stroke="#000" stroke-width="1.0"/>
<rect x="408.30" y="41.15" width="3.40" height="14.10" fill="#b2000c" stroke="#000" stroke-width="1.0"/>
<rect x="414.26" y="41.15" width="3.40" height="14.10" fill="#b2000c" stroke="#000" stroke-width="1.0"/>
<rect x="420.05" y="40.70" width="3.2" height="14.9" fill="#c0000c"/>
<rect x="426.00" y="40.70" width="3.2" height="14.9" fill="#c0000c"/>
<rect x="431.85" y="40.70" width="3.2" height="14.9" fill="#c0000c"/>
<rect x="437.75" y="40.70" width="3.2" height="14.9" fill="#0023ac"/>
<rect x="443.45" y="40.70" width="3.2" height="14.9" fill="#0023ac"/>
<rect x="449.15" y="40.70" width="3.2" height="14.9" fill="#0023ac"/>
<rect x="324.05" y="58.50" width="3.2" height="14.9" fill="#c0000c"/>
<rect x="330.11" y="58.50" width="3.2" height="14.9" fill="#0023ac"/>
<rect x="336.43" y="58.50" width="3.2" height="14.9" fill="#0023ac"/>
<rect x="342.76" y="58.50" width="3.2" height="14.9" fill="#0023ac"/>
<rect x="349.00" y="58.50" width="3.2" height="14.9" fill="#0023ac"/>
<rect x="355.01" y="58.50" width="3.2" height="14.9" fill="#0023ac"/>
<rect x="361.00" y="58.50" width="3.2" height="14.9" fill="#c0000c"/>
<rect x="366.90" y="58.50" width="3.2" height="14.9" fill="#c0000c"/>
<rect x="372.91" y="58.50" width="3.2" height="14.9" fill="#0023ac"/>
<rect x="378.90" y="58.50" width="3.2" height="14.9" fill="#0023ac"/>
<rect x="384.70" y="58.50" width="3.2" height="14.9" fill="#0023ac"/>
<rect x="390.75" y="58.50" width="3.2" height="14.9" fill="#0023ac"/>
<rect x="396.60" y="58.50" width="3.2" height="14.9" fill="#0023ac"/>
<rect x="402.40" y="58.50" width="3.2" height="14.9" fill="#0023ac"/>
<rect x="408.40" y="58.50" width="3.2" height="14.9" fill="#c0000c"/>
<rect x="414.36" y="58.50" width="3.2" height="14.9" fill="#0023ac"/>
<rect x="420.05" y="58.50" width="3.2" height="14.9" fill="#0023ac"/>
<rect x="426.00" y="58.50" width="3.2" height="14.9" fill="#0023ac"/>
<rect x="431.85" y="58.50" width="3.2" height="14.9" fill="#c0000c"/>
<rect x="437.75" y="58.50" width="3.2" height="14.9" fill="#c0000c"/>
<rect x="443.45" y="58.50" width="3.2" height="14.9" fill="#c0000c"/>
<rect x="449.15" y="58.50" width="3.2" height="14.9" fill="#0023ac"/>
<rect x="324.05" y="76.35" width="3.2" height="14.9" fill="#c0000c"/>
<rect x="330.11" y="76.35" width="3.2" height="14.9" fill="#0023ac"/>
<rect x="336.43" y="76.35" width="3.2" height="14.9" fill="#0023ac"/>
<rect x="342.76" y="76.35" width="3.2" height="14.9" fill="#0023ac"/>
<rect x="349.00" y="76.35" width="3.2" height="14.9" fill="#0023ac"/>
<rect x="355.01" y="76.35" width="3.2" height="14.9" fill="#0023ac"/>
<rect x="361.00" y="76.35" width="3.2" height="14.9" fill="#c0000c"/>
<rect x="366.90" y="76.35" width="3.2" height="14.9" fill="#0023ac"/>
<rect x="372.91" y="76.35" width="3.2" height="14.9" fill="#0023ac"/>
<rect x="378.90" y="76.35" width="3.2" height="14.9" fill="#0023ac"/>
<rect x="384.70" y="76.35" width="3.2" height="14.9" fill="#0023ac"/>
<rect x="390.75" y="76.35" width="3.2" height="14.9" fill="#0023ac"/>
<rect x="396.60" y="76.35" width="3.2" height="14.9" fill="#0023ac"/>
<rect x="402.40" y="76.35" width="3.2" height="14.9" fill="#0023ac"/>
<rect x="408.40" y="76.35" width="3.2" height="14.9" fill="#0023ac"/>
<rect x="414.36" y="76.35" width="3.2" height="14.9" fill="#0023ac"/>
<rect x="420.05" y="76.35" width="3.2" height="14.9" fill="#0023ac"/>
<rect x="426.00" y="76.35" width="3.2" height="14.9" fill="#0023ac"/>
<rect x="431.85" y="76.35" width="3.2" height="14.9" fill="#0023ac"/>
<rect x="437.75" y="76.35" width="3.2" height="14.9" fill="#c0000c"/>
<rect x="443.45" y="76.35" width="3.2" height="14.9" fill="#0023ac"/>
<rect x="449.15" y="76.35" width="3.2" height="14.9" fill="#0023ac"/>
<rect x="324.05" y="94.15" width="3.2" height="14.9" fill="#0023ac"/>
<rect x="330.11" y="94.15" width="3.2" height="14.9" fill="#0023ac"/>
<rect x="336.43" y="94.15" width="3.2" height="14.9" fill="#0023ac"/>
<rect x="342.76" y="94.15" width="3.2" height="14.9" fill="#0023ac"/>
<rect x="349.00" y="94.15" width="3.2" height="14.9" fill="#0023ac"/>
<rect x="355.01" y="94.15" width="3.2" height="14.9" fill="#0023ac"/>
<rect x="361.00" y="94.15" width="3.2" height="14.9" fill="#0023ac"/>
<rect x="366.90" y="94.15" width="3.2" height="14.9" fill="#0023ac"/>
<rect x="372.91" y="94.15" width="3.2" height="14.9" fill="#0023ac"/>
<rect x="378.90" y="94.15" width="3.2" height="14.9" fill="#0023ac"/>
<rect x="384.70" y="94.15" width="3.2" height="14.9" fill="#0023ac"/>
<rect x="390.75" y="94.15" width="3.2" height="14.9" fill="#0023ac"/>
<rect x="396.60" y="94.15" width="3.2" height="14.9" fill="#0023ac"/>
<rect x="402.40" y="94.15" width="3.2" height="14.9" fill="#0023ac"/>
<rect x="408.40" y="94.15" width="3.2" height="14.9" fill="#0023ac"/>
<rect x="414.36" y="94.15" width="3.2" height="14.9" fill="#0023ac"/>
<rect x="420.05" y="94.15" width="3.2" height="14.9" fill="#0023ac"/>
<rect x="426.00" y="94.15" width="3.2" height="14.9" fill="#0023ac"/>
<rect x="431.85" y="94.15" width="3.2" height="14.9" fill="#0023ac"/>
<rect x="437.75" y="94.15" width="3.2" height="14.9" fill="#0023ac"/>
<rect x="443.45" y="94.15" width="3.2" height="14.9" fill="#0023ac"/>
<rect x="449.15" y="94.15" width="3.2" height="14.9" fill="#0023ac"/>
<rect x="324.05" y="112.05" width="3.2" height="14.9" fill="#0023ac"/>
<rect x="330.11" y="112.05" width="3.2" height="14.9" fill="#c0000c"/>
<rect x="336.43" y="112.05" width="3.2" height="14.9" fill="#c0000c"/>
<rect x="342.76" y="112.05" width="3.2" height="14.9" fill="#0023ac"/>
<rect x="349.00" y="112.05" width="3.2" height="14.9" fill="#0023ac"/>
<rect x="355.01" y="112.05" width="3.2" height="14.9" fill="#0023ac"/>
<rect x="361.00" y="112.05" width="3.2" height="14.9" fill="#0023ac"/>
<rect x="366.90" y="112.05" width="3.2" height="14.9" fill="#0023ac"/>
<rect x="372.91" y="112.05" width="3.2" height="14.9" fill="#c0000c"/>
<rect x="378.90" y="112.05" width="3.2" height="14.9" fill="#c0000c"/>
<rect x="384.70" y="112.05" width="3.2" height="14.9" fill="#c0000c"/>
<rect x="390.75" y="112.05" width="3.2" height="14.9" fill="#c0000c"/>
<rect x="396.60" y="112.05" width="3.2" height="14.9" fill="#0023ac"/>
<rect x="402.40" y="112.05" width="3.2" height="14.9" fill="#0023ac"/>
<rect x="408.40" y="112.05" width="3.2" height="14.9" fill="#0023ac"/>
<rect x="414.36" y="112.05" width="3.2" height="14.9" fill="#0023ac"/>
<rect x="420.05" y="112.05" width="3.2" height="14.9" fill="#0023ac"/>
<rect x="426.00" y="112.05" width="3.2" height="14.9" fill="#c0000c"/>
<rect x="431.85" y="112.05" width="3.2" height="14.9" fill="#0023ac"/>
<rect x="437.75" y="112.05" width="3.2" height="14.9" fill="#0023ac"/>
<rect x="443.45" y="112.05" width="3.2" height="14.9" fill="#0023ac"/>
<rect x="449.15" y="112.05" width="3.2" height="14.9" fill="#0023ac"/>
<rect x="324.05" y="129.85" width="3.2" height="14.9" fill="#0023ac"/>
<rect x="330.11" y="129.85" width="3.2" height="14.9" fill="#0023ac"/>
<rect x="336.43" y="129.85" width="3.2" height="14.9" fill="#0023ac"/>
<rect x="342.76" y="129.85" width="3.2" height="14.9" fill="#0023ac"/>
<rect x="349.00" y="129.85" width="3.2" height="14.9" fill="#c0000c"/>
<rect x="355.01" y="129.85" width="3.2" height="14.9" fill="#0023ac"/>
<rect x="361.00" y="129.85" width="3.2" height="14.9" fill="#0023ac"/>
<rect x="366.90" y="129.85" width="3.2" height="14.9" fill="#0023ac"/>
<rect x="372.91" y="129.85" width="3.2" height="14.9" fill="#0023ac"/>
<rect x="378.90" y="129.85" width="3.2" height="14.9" fill="#0023ac"/>
<rect x="384.70" y="129.85" width="3.2" height="14.9" fill="#0023ac"/>
<rect x="390.75" y="129.85" width="3.2" height="14.9" fill="#0023ac"/>
<rect x="396.60" y="129.85" width="3.2" height="14.9" fill="#0023ac"/>
<rect x="402.40" y="129.85" width="3.2" height="14.9" fill="#0023ac"/>
<rect x="408.40" y="129.85" width="3.2" height="14.9" fill="#0023ac"/>
<rect x="414.36" y="129.85" width="3.2" height="14.9" fill="#0023ac"/>
<rect x="420.05" y="129.85" width="3.2" height="14.9" fill="#0023ac"/>
<rect x="426.00" y="129.85" width="3.2" height="14.9" fill="#0023ac"/>
<rect x="431.85" y="129.85" width="3.2" height="14.9" fill="#0023ac"/>
<rect x="437.75" y="129.85" width="3.2" height="14.9" fill="#0023ac"/>
<rect x="443.45" y="129.85" width="3.2" height="14.9" fill="#0023ac"/>
<rect x="449.15" y="129.85" width="3.2" height="14.9" fill="#0023ac"/>
<rect x="324.05" y="147.65" width="3.2" height="14.9" fill="#0023ac"/>
<rect x="330.11" y="147.65" width="3.2" height="14.9" fill="#0023ac"/>
<rect x="336.43" y="147.65" width="3.2" height="14.9" fill="#0023ac"/>
<rect x="342.76" y="147.65" width="3.2" height="14.9" fill="#0023ac"/>
<rect x="349.00" y="147.65" width="3.2" height="14.9" fill="#0023ac"/>
<rect x="355.01" y="147.65" width="3.2" height="14.9" fill="#0023ac"/>
<rect x="361.00" y="147.65" width="3.2" height="14.9" fill="#0023ac"/>
<rect x="366.90" y="147.65" width="3.2" height="14.9" fill="#0023ac"/>
<rect x="372.91" y="147.65" width="3.2" height="14.9" fill="#c0000c"/>
<rect x="378.90" y="147.65" width="3.2" height="14.9" fill="#0023ac"/>
<rect x="384.70" y="147.65" width="3.2" height="14.9" fill="#0023ac"/>
<rect x="390.75" y="147.65" width="3.2" height="14.9" fill="#0023ac"/>
<rect x="396.60" y="147.65" width="3.2" height="14.9" fill="#0023ac"/>
<rect x="402.40" y="147.65" width="3.2" height="14.9" fill="#c0000c"/>
<rect x="408.40" y="147.65" width="3.2" height="14.9" fill="#0023ac"/>
<rect x="414.36" y="147.65" width="3.2" height="14.9" fill="#0023ac"/>
<rect x="420.05" y="147.65" width="3.2" height="14.9" fill="#0023ac"/>
<rect x="426.00" y="147.65" width="3.2" height="14.9" fill="#0023ac"/>
<rect x="431.85" y="147.65" width="3.2" height="14.9" fill="#0023ac"/>
<rect x="437.75" y="147.65" width="3.2" height="14.9" fill="#0023ac"/>
<rect x="443.45" y="147.65" width="3.2" height="14.9" fill="#0023ac"/>
<rect x="449.15" y="147.65" width="3.2" height="14.9" fill="#0023ac"/>
<rect x="324.05" y="165.20" width="3.2" height="14.9" fill="#0023ac"/>
<rect x="330.11" y="165.20" width="3.2" height="14.9" fill="#0023ac"/>
<rect x="336.43" y="165.20" width="3.2" height="14.9" fill="#c0000c"/>
<rect x="342.76" y="165.20" width="3.2" height="14.9" fill="#0023ac"/>
<rect x="349.00" y="165.20" width="3.2" height="14.9" fill="#0023ac"/>
<rect x="355.01" y="165.20" width="3.2" height="14.9" fill="#0023ac"/>
<rect x="361.00" y="165.20" width="3.2" height="14.9" fill="#c0000c"/>
<rect x="366.90" y="165.20" width="3.2" height="14.9" fill="#0023ac"/>
<rect x="372.91" y="165.20" width="3.2" height="14.9" fill="#c0000c"/>
<rect x="378.90" y="165.20" width="3.2" height="14.9" fill="#c0000c"/>
<rect x="384.70" y="165.20" width="3.2" height="14.9" fill="#0023ac"/>
<rect x="390.75" y="165.20" width="3.2" height="14.9" fill="#0023ac"/>
<rect x="396.60" y="165.20" width="3.2" height="14.9" fill="#c0000c"/>
<rect x="402.40" y="165.20" width="3.2" height="14.9" fill="#c0000c"/>
<rect x="408.40" y="165.20" width="3.2" height="14.9" fill="#0023ac"/>
<rect x="414.36" y="165.20" width="3.2" height="14.9" fill="#0023ac"/>
<rect x="420.05" y="165.20" width="3.2" height="14.9" fill="#0023ac"/>
<rect x="426.00" y="165.20" width="3.2" height="14.9" fill="#0023ac"/>
<rect x="431.85" y="165.20" width="3.2" height="14.9" fill="#0023ac"/>
<rect x="437.75" y="165.20" width="3.2" height="14.9" fill="#0023ac"/>
<rect x="443.45" y="165.20" width="3.2" height="14.9" fill="#0023ac"/>
<rect x="449.15" y="165.20" width="3.2" height="14.9" fill="#0023ac"/>
<rect x="324.05" y="183.35" width="3.2" height="14.9" fill="#0023ac"/>
<rect x="330.11" y="183.35" width="3.2" height="14.9" fill="#0023ac"/>
<rect x="336.43" y="183.35" width="3.2" height="14.9" fill="#c0000c"/>
<rect x="342.76" y="183.35" width="3.2" height="14.9" fill="#0023ac"/>
<rect x="349.00" y="183.35" width="3.2" height="14.9" fill="#0023ac"/>
<rect x="355.01" y="183.35" width="3.2" height="14.9" fill="#0023ac"/>
<rect x="361.00" y="183.35" width="3.2" height="14.9" fill="#0023ac"/>
<rect x="366.90" y="183.35" width="3.2" height="14.9" fill="#0023ac"/>
<rect x="372.91" y="183.35" width="3.2" height="14.9" fill="#c0000c"/>
<rect x="378.90" y="183.35" width="3.2" height="14.9" fill="#0023ac"/>
<rect x="384.70" y="183.35" width="3.2" height="14.9" fill="#0023ac"/>
<rect x="390.75" y="183.35" width="3.2" height="14.9" fill="#0023ac"/>
<rect x="396.60" y="183.35" width="3.2" height="14.9" fill="#0023ac"/>
<rect x="402.40" y="183.35" width="3.2" height="14.9" fill="#0023ac"/>
<rect x="408.40" y="183.35" width="3.2" height="14.9" fill="#0023ac"/>
<rect x="414.36" y="183.35" width="3.2" height="14.9" fill="#0023ac"/>
<rect x="420.05" y="183.35" width="3.2" height="14.9" fill="#0023ac"/>
<rect x="426.00" y="183.35" width="3.2" height="14.9" fill="#0023ac"/>
<rect x="431.85" y="183.35" width="3.2" height="14.9" fill="#0023ac"/>
<rect x="437.75" y="183.35" width="3.2" height="14.9" fill="#c0000c"/>
<rect x="443.45" y="183.35" width="3.2" height="14.9" fill="#0023ac"/>
<rect x="449.15" y="183.35" width="3.2" height="14.9" fill="#0023ac"/>
<rect x="324.05" y="202.00" width="3.2" height="14.9" fill="#c0000c"/>
<rect x="330.11" y="202.00" width="3.2" height="14.9" fill="#c0000c"/>
<rect x="336.43" y="202.00" width="3.2" height="14.9" fill="#c0000c"/>
<rect x="342.76" y="202.00" width="3.2" height="14.9" fill="#c0000c"/>
<rect x="349.00" y="202.00" width="3.2" height="14.9" fill="#c0000c"/>
<rect x="355.01" y="202.00" width="3.2" height="14.9" fill="#c0000c"/>
<rect x="361.00" y="202.00" width="3.2" height="14.9" fill="#0023ac"/>
<rect x="366.90" y="202.00" width="3.2" height="14.9" fill="#0023ac"/>
<rect x="372.91" y="202.00" width="3.2" height="14.9" fill="#0023ac"/>
<rect x="378.90" y="202.00" width="3.2" height="14.9" fill="#0023ac"/>
<rect x="384.70" y="202.00" width="3.2" height="14.9" fill="#0023ac"/>
<rect x="390.75" y="202.00" width="3.2" height="14.9" fill="#0023ac"/>
<rect x="396.60" y="202.00" width="3.2" height="14.9" fill="#0023ac"/>
<rect x="402.40" y="202.00" width="3.2" height="14.9" fill="#0023ac"/>
<rect x="408.40" y="202.00" width="3.2" height="14.9" fill="#0023ac"/>
<rect x="414.36" y="202.00" width="3.2" height="14.9" fill="#0023ac"/>
<rect x="420.05" y="202.00" width="3.2" height="14.9" fill="#0023ac"/>
<rect x="426.00" y="202.00" width="3.2" height="14.9" fill="#0023ac"/>
<rect x="431.85" y="202.00" width="3.2" height="14.9" fill="#0023ac"/>
<rect x="437.75" y="202.00" width="3.2" height="14.9" fill="#0023ac"/>
<rect x="443.45" y="202.00" width="3.2" height="14.9" fill="#c0000c"/>
<rect x="449.15" y="202.00" width="3.2" height="14.9" fill="#0023ac"/>
<rect x="324.05" y="220.10" width="3.2" height="14.9" fill="#0023ac"/>
<rect x="330.11" y="220.10" width="3.2" height="14.9" fill="#c0000c"/>
<rect x="336.43" y="220.10" width="3.2" height="14.9" fill="#0023ac"/>
<rect x="342.76" y="220.10" width="3.2" height="14.9" fill="#c0000c"/>
<rect x="349.00" y="220.10" width="3.2" height="14.9" fill="#0023ac"/>
<rect x="355.01" y="220.10" width="3.2" height="14.9" fill="#0023ac"/>
<rect x="361.00" y="220.10" width="3.2" height="14.9" fill="#0023ac"/>
<rect x="366.90" y="220.10" width="3.2" height="14.9" fill="#0023ac"/>
<rect x="372.91" y="220.10" width="3.2" height="14.9" fill="#0023ac"/>
<rect x="378.90" y="220.10" width="3.2" height="14.9" fill="#0023ac"/>
<rect x="384.70" y="220.10" width="3.2" height="14.9" fill="#0023ac"/>
<rect x="390.75" y="220.10" width="3.2" height="14.9" fill="#0023ac"/>
<rect x="396.60" y="220.10" width="3.2" height="14.9" fill="#0023ac"/>
<rect x="402.40" y="220.10" width="3.2" height="14.9" fill="#0023ac"/>
<rect x="408.40" y="220.10" width="3.2" height="14.9" fill="#0023ac"/>
<rect x="414.36" y="220.10" width="3.2" height="14.9" fill="#0023ac"/>
<rect x="420.05" y="220.10" width="3.2" height="14.9" fill="#0023ac"/>
<rect x="426.00" y="220.10" width="3.2" height="14.9" fill="#0023ac"/>
<rect x="431.85" y="220.10" width="3.2" height="14.9" fill="#0023ac"/>
<rect x="437.75" y="220.10" width="3.2" height="14.9" fill="#0023ac"/>
<rect x="443.45" y="220.10" width="3.2" height="14.9" fill="#0023ac"/>
<rect x="449.15" y="220.10" width="3.2" height="14.9" fill="#c0000c"/>
<text transform="translate(456.50,36.35) scale(0.07430,0.07800)" font-size="100" font-weight="normal" font-style="normal" fill="#111" stroke="#111" stroke-width="2.3" stroke-linejoin="round" >Tumor type</text>
<text transform="translate(456.50,50.00) scale(0.07404,0.07800)" font-size="100" font-weight="normal" font-style="normal" fill="#111" stroke="#111" stroke-width="2.3" stroke-linejoin="round" >nonGCB</text>
<text transform="translate(456.50,67.93) scale(0.07463,0.07800)" font-size="100" font-weight="normal" font-style="normal" fill="#111" stroke="#111" stroke-width="2.3" stroke-linejoin="round" ><tspan font-style="italic">MYD88</tspan> mut</text>
<text transform="translate(456.50,85.86) scale(0.07410,0.07800)" font-size="100" font-weight="normal" font-style="normal" fill="#111" stroke="#111" stroke-width="2.3" stroke-linejoin="round" ><tspan font-style="italic">CD79B</tspan> mut</text>
<text transform="translate(456.50,103.80) scale(0.07365,0.07800)" font-size="100" font-weight="normal" font-style="normal" fill="#111" stroke="#111" stroke-width="2.3" stroke-linejoin="round" ><tspan font-style="italic">BCL2</tspan> rearranged</text>
<text transform="translate(456.50,121.72) scale(0.07365,0.07800)" font-size="100" font-weight="normal" font-style="normal" fill="#111" stroke="#111" stroke-width="2.3" stroke-linejoin="round" ><tspan font-style="italic">BCL6</tspan> rearranged</text>
<text transform="translate(456.50,139.65) scale(0.07359,0.07800)" font-size="100" font-weight="normal" font-style="normal" fill="#111" stroke="#111" stroke-width="2.3" stroke-linejoin="round" ><tspan font-style="italic">MYC</tspan> rearranged</text>
<text transform="translate(456.50,157.60) scale(0.06946,0.07800)" font-size="100" font-weight="normal" font-style="normal" fill="#111" stroke="#111" stroke-width="2.3" stroke-linejoin="round" >EBV</text>
<text transform="translate(456.50,176.60) scale(0.07339,0.07800)" font-size="100" font-weight="normal" font-style="normal" fill="#111" stroke="#111" stroke-width="2.3" stroke-linejoin="round" >PD-L1 tumor</text>
<text transform="translate(456.50,194.90) scale(0.07346,0.07800)" font-size="100" font-weight="normal" font-style="normal" fill="#111" stroke="#111" stroke-width="2.3" stroke-linejoin="round" ><tspan font-style="italic">PD-L1/2</tspan> CNA</text>
<text transform="translate(456.50,212.60) scale(0.07063,0.07800)" font-size="100" font-weight="normal" font-style="normal" fill="#111" stroke="#111" stroke-width="2.3" stroke-linejoin="round" >HLA I loss</text>
<text transform="translate(456.50,230.50) scale(0.07071,0.07800)" font-size="100" font-weight="normal" font-style="normal" fill="#111" stroke="#111" stroke-width="2.3" stroke-linejoin="round" >HLA II loss</text>
<rect x="20.1" y="245.30" width="8.1" height="7.8" fill="#c0000c"/>
<text transform="translate(30.70,251.50) scale(0.07292,0.07800)" font-size="100" font-weight="normal" font-style="normal" fill="#111" stroke="#111" stroke-width="2.3" stroke-linejoin="round" >Positive event</text>
<rect x="20.1" y="254.85" width="8.1" height="7.8" fill="#0023ac"/>
<text transform="translate(30.70,261.70) scale(0.07555,0.07800)" font-size="100" font-weight="normal" font-style="normal" fill="#111" stroke="#111" stroke-width="2.3" stroke-linejoin="round" >Negative event</text>
<rect x="20.1" y="264.40" width="8.1" height="7.8" fill="#28ff0c"/>
<text transform="translate(30.70,271.15) scale(0.07810,0.07800)" font-size="100" font-weight="normal" font-style="normal" fill="#111" stroke="#111" stroke-width="2.3" stroke-linejoin="round" >Not determined</text>
<text transform="translate(9.70,295.60) scale(0.13708,0.13000)" font-size="100" font-weight="bold" font-style="normal" fill="#000" stroke="#000" stroke-width="4.6" stroke-linejoin="round" >B</text>
<rect x="20.0" y="311.4" width="146.9" height="3.8" fill="#000"/>
<text transform="translate(57.90,308.10) scale(0.10841,0.11700)" font-size="100" font-weight="normal" font-style="normal" fill="#111" stroke="#111" stroke-width="1.7" stroke-linejoin="round" >PMBCL (n=25)</text>
<rect x="20.45" y="320.20" width="3.2" height="14.4" fill="#c0000c"/>
<rect x="26.39" y="320.20" width="3.2" height="14.4" fill="#c0000c"/>
<rect x="32.33" y="320.20" width="3.2" height="14.4" fill="#c0000c"/>
<rect x="38.27" y="320.20" width="3.2" height="14.4" fill="#c0000c"/>
<rect x="44.21" y="320.20" width="3.2" height="14.4" fill="#c0000c"/>
<rect x="50.14" y="320.20" width="3.2" height="14.4" fill="#c0000c"/>
<rect x="56.08" y="320.20" width="3.2" height="14.4" fill="#c0000c"/>
<rect x="62.02" y="320.20" width="3.2" height="14.4" fill="#c0000c"/>
<rect x="67.96" y="320.20" width="3.2" height="14.4" fill="#c0000c"/>
<rect x="73.90" y="320.20" width="3.2" height="14.4" fill="#c0000c"/>
<rect x="79.84" y="320.20" width="3.2" height="14.4" fill="#c0000c"/>
<rect x="85.78" y="320.20" width="3.2" height="14.4" fill="#c0000c"/>
<rect x="91.72" y="320.20" width="3.2" height="14.4" fill="#c0000c"/>
<rect x="97.66" y="320.20" width="3.2" height="14.4" fill="#c0000c"/>
<rect x="103.60" y="320.20" width="3.2" height="14.4" fill="#c0000c"/>
<rect x="109.54" y="320.20" width="3.2" height="14.4" fill="#c0000c"/>
<rect x="115.47" y="320.20" width="3.2" height="14.4" fill="#c0000c"/>
<rect x="121.41" y="320.20" width="3.2" height="14.4" fill="#c0000c"/>
<rect x="127.35" y="320.20" width="3.2" height="14.4" fill="#0023ac"/>
<rect x="133.29" y="320.20" width="3.2" height="14.4" fill="#0023ac"/>
<rect x="139.23" y="320.20" width="3.2" height="14.4" fill="#0023ac"/>
<rect x="145.17" y="320.20" width="3.2" height="14.4" fill="#0023ac"/>
<rect x="151.11" y="320.20" width="3.2" height="14.4" fill="#0023ac"/>
<rect x="157.05" y="320.20" width="3.2" height="14.4" fill="#0023ac"/>
<rect x="162.99" y="320.20" width="3.2" height="14.4" fill="#0023ac"/>
<rect x="20.45" y="337.30" width="3.2" height="14.4" fill="#c0000c"/>
<rect x="26.39" y="337.30" width="3.2" height="14.4" fill="#c0000c"/>
<rect x="32.33" y="337.30" width="3.2" height="14.4" fill="#c0000c"/>
<rect x="38.27" y="337.30" width="3.2" height="14.4" fill="#c0000c"/>
<rect x="44.21" y="337.30" width="3.2" height="14.4" fill="#c0000c"/>
<rect x="50.14" y="337.30" width="3.2" height="14.4" fill="#c0000c"/>
<rect x="56.08" y="337.30" width="3.2" height="14.4" fill="#c0000c"/>
<rect x="62.02" y="337.30" width="3.2" height="14.4" fill="#c0000c"/>
<rect x="67.96" y="337.30" width="3.2" height="14.4" fill="#c0000c"/>
<rect x="73.90" y="337.30" width="3.2" height="14.4" fill="#c0000c"/>
<rect x="79.84" y="337.30" width="3.2" height="14.4" fill="#c0000c"/>
<rect x="85.78" y="337.30" width="3.2" height="14.4" fill="#c0000c"/>
<rect x="91.72" y="337.30" width="3.2" height="14.4" fill="#0023ac"/>
<rect x="97.66" y="337.30" width="3.2" height="14.4" fill="#0023ac"/>
<rect x="103.60" y="337.30" width="3.2" height="14.4" fill="#0023ac"/>
<rect x="109.54" y="337.30" width="3.2" height="14.4" fill="#0023ac"/>
<rect x="115.47" y="337.30" width="3.2" height="14.4" fill="#0023ac"/>
<rect x="121.41" y="337.30" width="3.2" height="14.4" fill="#0023ac"/>
<rect x="127.35" y="337.30" width="3.2" height="14.4" fill="#c0000c"/>
<rect x="133.29" y="337.30" width="3.2" height="14.4" fill="#c0000c"/>
<rect x="139.23" y="337.30" width="3.2" height="14.4" fill="#0023ac"/>
<rect x="145.17" y="337.30" width="3.2" height="14.4" fill="#0023ac"/>
<rect x="151.11" y="337.30" width="3.2" height="14.4" fill="#0023ac"/>
<rect x="157.05" y="337.30" width="3.2" height="14.4" fill="#0023ac"/>
<rect x="162.99" y="337.30" width="3.2" height="14.4" fill="#0023ac"/>
<rect x="20.45" y="354.40" width="3.2" height="14.4" fill="#c0000c"/>
<rect x="26.39" y="354.40" width="3.2" height="14.4" fill="#c0000c"/>
<rect x="32.33" y="354.40" width="3.2" height="14.4" fill="#c0000c"/>
<rect x="38.27" y="354.40" width="3.2" height="14.4" fill="#0023ac"/>
<rect x="44.21" y="354.40" width="3.2" height="14.4" fill="#0023ac"/>
<rect x="50.14" y="354.40" width="3.2" height="14.4" fill="#0023ac"/>
<rect x="56.08" y="354.40" width="3.2" height="14.4" fill="#0023ac"/>
<rect x="62.02" y="354.40" width="3.2" height="14.4" fill="#0023ac"/>
<rect x="67.96" y="354.40" width="3.2" height="14.4" fill="#0023ac"/>
<rect x="73.90" y="354.40" width="3.2" height="14.4" fill="#c0000c"/>
<rect x="79.84" y="354.40" width="3.2" height="14.4" fill="#0023ac"/>
<rect x="85.78" y="354.40" width="3.2" height="14.4" fill="#0023ac"/>
<rect x="91.72" y="354.40" width="3.2" height="14.4" fill="#0023ac"/>
<rect x="97.66" y="354.40" width="3.2" height="14.4" fill="#0023ac"/>
<rect x="103.60" y="354.40" width="3.2" height="14.4" fill="#0023ac"/>
<rect x="109.54" y="354.40" width="3.2" height="14.4" fill="#0023ac"/>
<rect x="115.47" y="354.40" width="3.2" height="14.4" fill="#0023ac"/>
<rect x="121.41" y="354.40" width="3.2" height="14.4" fill="#0023ac"/>
<rect x="127.35" y="354.40" width="3.2" height="14.4" fill="#c0000c"/>
<rect x="133.29" y="354.40" width="3.2" height="14.4" fill="#0023ac"/>
<rect x="139.23" y="354.40" width="3.2" height="14.4" fill="#0023ac"/>
<rect x="145.17" y="354.40" width="3.2" height="14.4" fill="#0023ac"/>
<rect x="151.11" y="354.40" width="3.2" height="14.4" fill="#0023ac"/>
<rect x="157.05" y="354.40" width="3.2" height="14.4" fill="#0023ac"/>
<rect x="162.99" y="354.40" width="3.2" height="14.4" fill="#0023ac"/>
<rect x="20.45" y="371.50" width="3.2" height="14.4" fill="#0023ac"/>
<rect x="26.39" y="371.50" width="3.2" height="14.4" fill="#0023ac"/>
<rect x="32.33" y="371.50" width="3.2" height="14.4" fill="#0023ac"/>
<rect x="38.27" y="371.50" width="3.2" height="14.4" fill="#c0000c"/>
<rect x="44.21" y="371.50" width="3.2" height="14.4" fill="#0023ac"/>
<rect x="50.14" y="371.50" width="3.2" height="14.4" fill="#0023ac"/>
<rect x="56.08" y="371.50" width="3.2" height="14.4" fill="#0023ac"/>
<rect x="62.02" y="371.50" width="3.2" height="14.4" fill="#0023ac"/>
<rect x="67.96" y="371.50" width="3.2" height="14.4" fill="#0023ac"/>
<rect x="73.90" y="371.50" width="3.2" height="14.4" fill="#0023ac"/>
<rect x="79.84" y="371.50" width="3.2" height="14.4" fill="#0023ac"/>
<rect x="85.78" y="371.50" width="3.2" height="14.4" fill="#0023ac"/>
<rect x="91.72" y="371.50" width="3.2" height="14.4" fill="#0023ac"/>
<rect x="97.66" y="371.50" width="3.2" height="14.4" fill="#0023ac"/>
<rect x="103.60" y="371.50" width="3.2" height="14.4" fill="#0023ac"/>
<rect x="109.54" y="371.50" width="3.2" height="14.4" fill="#0023ac"/>
<rect x="115.47" y="371.50" width="3.2" height="14.4" fill="#0023ac"/>
<rect x="121.41" y="371.50" width="3.2" height="14.4" fill="#0023ac"/>
<rect x="127.35" y="371.50" width="3.2" height="14.4" fill="#0023ac"/>
<rect x="133.29" y="371.50" width="3.2" height="14.4" fill="#0023ac"/>
<rect x="139.23" y="371.50" width="3.2" height="14.4" fill="#0023ac"/>
<rect x="145.17" y="371.50" width="3.2" height="14.4" fill="#0023ac"/>
<rect x="151.11" y="371.50" width="3.2" height="14.4" fill="#0023ac"/>
<rect x="157.05" y="371.50" width="3.2" height="14.4" fill="#0023ac"/>
<rect x="162.99" y="371.50" width="3.2" height="14.4" fill="#0023ac"/>
<text transform="translate(169.90,315.50) scale(0.07430,0.07800)" font-size="100" font-weight="normal" font-style="normal" fill="#111" stroke="#111" stroke-width="2.3" stroke-linejoin="round" >Tumor type</text>
<text transform="translate(169.90,330.55) scale(0.07339,0.07800)" font-size="100" font-weight="normal" font-style="normal" fill="#111" stroke="#111" stroke-width="2.3" stroke-linejoin="round" >PD-L1 tumor</text>
<text transform="translate(169.90,347.65) scale(0.07346,0.07800)" font-size="100" font-weight="normal" font-style="normal" fill="#111" stroke="#111" stroke-width="2.3" stroke-linejoin="round" ><tspan font-style="italic">PD-L1/2</tspan> CNA</text>
<text transform="translate(169.90,364.75) scale(0.07063,0.07800)" font-size="100" font-weight="normal" font-style="normal" fill="#111" stroke="#111" stroke-width="2.3" stroke-linejoin="round" >HLA I loss</text>
<text transform="translate(169.90,381.85) scale(0.07071,0.07800)" font-size="100" font-weight="normal" font-style="normal" fill="#111" stroke="#111" stroke-width="2.3" stroke-linejoin="round" >HLA II loss</text>
<rect x="20.1" y="396.00" width="8.1" height="7.8" fill="#c0000c"/>
<text transform="translate(30.70,402.20) scale(0.07292,0.07800)" font-size="100" font-weight="normal" font-style="normal" fill="#111" stroke="#111" stroke-width="2.3" stroke-linejoin="round" >Positive event</text>
<rect x="20.1" y="405.55" width="8.1" height="7.8" fill="#0023ac"/>
<text transform="translate(30.70,412.40) scale(0.07555,0.07800)" font-size="100" font-weight="normal" font-style="normal" fill="#111" stroke="#111" stroke-width="2.3" stroke-linejoin="round" >Negative event</text>
<rect x="20.1" y="415.10" width="8.1" height="7.8" fill="#28ff0c"/>
<text transform="translate(30.70,421.85) scale(0.07810,0.07800)" font-size="100" font-weight="normal" font-style="normal" fill="#111" stroke="#111" stroke-width="2.3" stroke-linejoin="round" >Not determined</text>
<text transform="translate(229.60,296.40) scale(0.13708,0.13000)" font-size="100" font-weight="bold" font-style="normal" fill="#000" stroke="#000" stroke-width="4.6" stroke-linejoin="round" >C</text>
<text transform="translate(305.20,308.30) scale(0.10442,0.11000)" font-size="100" font-weight="normal" font-style="italic" fill="#111" stroke="#111" stroke-width="0.9" stroke-linejoin="round" >PD-L1</text>
<path d="M266.1 325.1 V453.0 H388.8" fill="none" stroke="#000" stroke-width="1.4"/>
<path d="M260 441.00 H266.1" stroke="#000" stroke-width="1.3"/>
<text transform="translate(257.20,443.70) translate(-4.67,0) scale(0.08400,0.08400)" font-size="100" font-weight="normal" font-style="normal" fill="#111" stroke="#111" stroke-width="1.8" stroke-linejoin="round" >4</text>
<path d="M260 417.96 H266.1" stroke="#000" stroke-width="1.3"/>
<text transform="translate(257.20,420.66) translate(-4.67,0) scale(0.08400,0.08400)" font-size="100" font-weight="normal" font-style="normal" fill="#111" stroke="#111" stroke-width="1.8" stroke-linejoin="round" >6</text>
<path d="M260 394.92 H266.1" stroke="#000" stroke-width="1.3"/>
<text transform="translate(257.20,397.62) translate(-4.67,0) scale(0.08400,0.08400)" font-size="100" font-weight="normal" font-style="normal" fill="#111" stroke="#111" stroke-width="1.8" stroke-linejoin="round" >8</text>
<path d="M260 371.88 H266.1" stroke="#000" stroke-width="1.3"/>
<text transform="translate(257.20,374.58) translate(-9.34,0) scale(0.08400,0.08400)" font-size="100" font-weight="normal" font-style="normal" fill="#111" stroke="#111" stroke-width="1.8" stroke-linejoin="round" >10</text>
<path d="M260 348.84 H266.1" stroke="#000" stroke-width="1.3"/>
<text transform="translate(257.20,351.54) translate(-9.34,0) scale(0.08400,0.08400)" font-size="100" font-weight="normal" font-style="normal" fill="#111" stroke="#111" stroke-width="1.8" stroke-linejoin="round" >12</text>
<path d="M260 325.80 H266.1" stroke="#000" stroke-width="1.3"/>
<text transform="translate(257.20,328.50) translate(-9.34,0) scale(0.08400,0.08400)" font-size="100" font-weight="normal" font-style="normal" fill="#111" stroke="#111" stroke-width="1.8" stroke-linejoin="round" >14</text>
<path d="M284.4 453.0 V457.9" stroke="#000" stroke-width="1.4"/>
<path d="M309.3 453.0 V457.9" stroke="#000" stroke-width="1.4"/>
<path d="M336.5 453.0 V457.9" stroke="#000" stroke-width="1.4"/>
<path d="M361.6 453.0 V457.9" stroke="#000" stroke-width="1.4"/>
<text transform="translate(286.60,505.60) rotate(-90) scale(0.08892,0.08800)" font-size="100" font-weight="normal" font-style="normal" fill="#111" stroke="#111" stroke-width="2.3" stroke-linejoin="round" >PTL (n=22)</text>
<text transform="translate(311.50,518.80) rotate(-90) scale(0.08870,0.08800)" font-size="100" font-weight="normal" font-style="normal" fill="#111" stroke="#111" stroke-width="2.3" stroke-linejoin="round" >PCNSL (n=58)</text>
<text transform="translate(338.70,518.50) rotate(-90) scale(0.08977,0.08800)" font-size="100" font-weight="normal" font-style="normal" fill="#111" stroke="#111" stroke-width="2.3" stroke-linejoin="round" >DLBCL (n=20)</text>
<text transform="translate(363.80,520.50) rotate(-90) scale(0.08978,0.08800)" font-size="100" font-weight="normal" font-style="normal" fill="#111" stroke="#111" stroke-width="2.3" stroke-linejoin="round" >PMBCL (n=20)</text>
<text transform="translate(246.10,421.60) rotate(-90) scale(0.08566,0.10800)" font-size="100" font-weight="normal" font-style="normal" fill="#111" stroke="#111" stroke-width="2.3" stroke-linejoin="round" >2log expression</text>
<path d="M281.2 338.1 H340.8 M309.8 338.6 V330.1 H361.8 V340.8" fill="none" stroke="#000" stroke-width="1.4"/>
<text transform="translate(336.40,327.90) translate(-1.60,0) scale(0.08200,0.08200)" font-size="100" font-weight="normal" font-style="normal" fill="#000" stroke="#000" stroke-width="3.7" stroke-linejoin="round" >*</text>
<circle cx="284.0" cy="387.1" r="1.25" fill="#c0000c"/>
<circle cx="279.9" cy="389.3" r="1.25" fill="#c0000c"/>
<circle cx="284.0" cy="390.4" r="1.25" fill="#c0000c"/>
<circle cx="275.9" cy="391.0" r="1.25" fill="#c0000c"/>
<circle cx="292.0" cy="391.0" r="1.25" fill="#c0000c"/>
<circle cx="288.0" cy="391.8" r="1.25" fill="#c0000c"/>
<circle cx="279.9" cy="392.4" r="1.25" fill="#c0000c"/>
<circle cx="284.0" cy="393.1" r="1.25" fill="#c0000c"/>
<circle cx="288.0" cy="396.7" r="1.25" fill="#c0000c"/>
<circle cx="279.9" cy="397.5" r="1.25" fill="#c0000c"/>
<circle cx="284.0" cy="399.0" r="1.25" fill="#c0000c"/>
<circle cx="279.9" cy="400.7" r="1.25" fill="#c0000c"/>
<circle cx="288.0" cy="400.5" r="1.25" fill="#c0000c"/>
<circle cx="284.0" cy="402.2" r="1.25" fill="#c0000c"/>
<circle cx="284.0" cy="403.7" r="1.25" fill="#c0000c"/>
<circle cx="288.0" cy="403.7" r="1.25" fill="#c0000c"/>
<circle cx="279.9" cy="405.4" r="1.25" fill="#c0000c"/>
<circle cx="284.0" cy="405.8" r="1.25" fill="#c0000c"/>
<circle cx="279.9" cy="408.5" r="1.25" fill="#c0000c"/>
<circle cx="284.0" cy="409.9" r="1.25" fill="#c0000c"/>
<circle cx="284.0" cy="413.0" r="1.25" fill="#c0000c"/>
<circle cx="284.0" cy="421.5" r="1.25" fill="#c0000c"/>
<circle cx="284.0" cy="435.0" r="1.25" fill="#c0000c"/>
<circle cx="335.2" cy="355.6" r="1.25" fill="#c0000c"/>
<circle cx="335.2" cy="378.1" r="1.25" fill="#c0000c"/>
<circle cx="333.2" cy="382.3" r="1.25" fill="#c0000c"/>
<circle cx="337.4" cy="382.3" r="1.25" fill="#c0000c"/>
<circle cx="327.4" cy="390.3" r="1.25" fill="#c0000c"/>
<circle cx="339.3" cy="390.1" r="1.25" fill="#c0000c"/>
<circle cx="343.2" cy="390.1" r="1.25" fill="#c0000c"/>
<circle cx="335.2" cy="392.4" r="1.25" fill="#c0000c"/>
<circle cx="331.3" cy="394.2" r="1.25" fill="#c0000c"/>
<circle cx="335.2" cy="396.5" r="1.25" fill="#c0000c"/>
<circle cx="339.1" cy="396.3" r="1.25" fill="#c0000c"/>
<circle cx="327.4" cy="399.1" r="1.25" fill="#c0000c"/>
<circle cx="331.3" cy="398.4" r="1.25" fill="#c0000c"/>
<circle cx="335.2" cy="400.4" r="1.25" fill="#c0000c"/>
<circle cx="339.3" cy="400.6" r="1.25" fill="#c0000c"/>
<circle cx="343.2" cy="400.4" r="1.25" fill="#c0000c"/>
<circle cx="331.3" cy="402.4" r="1.25" fill="#c0000c"/>
<circle cx="333.2" cy="406.1" r="1.25" fill="#c0000c"/>
<circle cx="337.2" cy="407.5" r="1.25" fill="#c0000c"/>
<circle cx="335.2" cy="415.4" r="1.25" fill="#c0000c"/>
<circle cx="359.0" cy="359.3" r="1.25" fill="#c0000c"/>
<circle cx="364.3" cy="361.0" r="1.25" fill="#c0000c"/>
<circle cx="358.8" cy="364.0" r="1.25" fill="#c0000c"/>
<circle cx="364.3" cy="363.7" r="1.25" fill="#c0000c"/>
<circle cx="353.5" cy="367.2" r="1.25" fill="#c0000c"/>
<circle cx="358.8" cy="368.6" r="1.25" fill="#c0000c"/>
<circle cx="364.3" cy="368.1" r="1.25" fill="#c0000c"/>
<circle cx="359.0" cy="372.8" r="1.25" fill="#c0000c"/>
<circle cx="364.3" cy="372.8" r="1.25" fill="#c0000c"/>
<circle cx="359.0" cy="379.1" r="1.25" fill="#c0000c"/>
<circle cx="364.3" cy="378.0" r="1.25" fill="#c0000c"/>
<circle cx="364.3" cy="381.6" r="1.25" fill="#c0000c"/>
<circle cx="359.0" cy="382.8" r="1.25" fill="#c0000c"/>
<circle cx="361.4" cy="387.0" r="1.25" fill="#c0000c"/>
<circle cx="364.3" cy="390.0" r="1.25" fill="#c0000c"/>
<circle cx="353.5" cy="390.9" r="1.25" fill="#c0000c"/>
<circle cx="358.8" cy="391.9" r="1.25" fill="#c0000c"/>
<circle cx="353.5" cy="393.9" r="1.25" fill="#c0000c"/>
<circle cx="364.3" cy="393.4" r="1.25" fill="#c0000c"/>
<circle cx="369.5" cy="392.6" r="1.25" fill="#c0000c"/>
<circle cx="310.2" cy="347.1" r="1.25" fill="#c0000c"/>
<circle cx="310.2" cy="363.3" r="1.25" fill="#c0000c"/>
<circle cx="310.2" cy="380.9" r="1.25" fill="#c0000c"/>
<circle cx="311.5" cy="383.8" r="1.25" fill="#c0000c"/>
<circle cx="309.0" cy="384.9" r="1.25" fill="#c0000c"/>
<circle cx="308.2" cy="393.4" r="1.25" fill="#c0000c"/>
<circle cx="310.2" cy="393.9" r="1.25" fill="#c0000c"/>
<circle cx="312.1" cy="393.7" r="1.25" fill="#c0000c"/>
<circle cx="314.1" cy="393.2" r="1.25" fill="#c0000c"/>
<circle cx="305.8" cy="395.4" r="1.25" fill="#c0000c"/>
<circle cx="314.1" cy="397.8" r="1.25" fill="#c0000c"/>
<circle cx="312.1" cy="398.6" r="1.25" fill="#c0000c"/>
<circle cx="310.2" cy="399.3" r="1.25" fill="#c0000c"/>
<circle cx="306.3" cy="400.5" r="1.25" fill="#c0000c"/>
<circle cx="308.2" cy="400.3" r="1.25" fill="#c0000c"/>
<circle cx="315.1" cy="401.0" r="1.25" fill="#c0000c"/>
<circle cx="316.7" cy="400.7" r="1.25" fill="#c0000c"/>
<circle cx="305.8" cy="403.7" r="1.25" fill="#c0000c"/>
<circle cx="312.1" cy="403.7" r="1.25" fill="#c0000c"/>
<circle cx="316.1" cy="404.0" r="1.25" fill="#c0000c"/>
<circle cx="301.8" cy="405.6" r="1.25" fill="#c0000c"/>
<circle cx="310.2" cy="405.5" r="1.25" fill="#c0000c"/>
<circle cx="302.3" cy="408.4" r="1.25" fill="#c0000c"/>
<circle cx="304.3" cy="408.8" r="1.25" fill="#c0000c"/>
<circle cx="306.3" cy="408.3" r="1.25" fill="#c0000c"/>
<circle cx="310.2" cy="408.6" r="1.25" fill="#c0000c"/>
<circle cx="314.1" cy="408.4" r="1.25" fill="#c0000c"/>
<circle cx="316.1" cy="408.6" r="1.25" fill="#c0000c"/>
<circle cx="318.0" cy="408.1" r="1.25" fill="#c0000c"/>
<circle cx="304.3" cy="410.7" r="1.25" fill="#c0000c"/>
<circle cx="306.3" cy="411.0" r="1.25" fill="#c0000c"/>
<circle cx="308.2" cy="410.4" r="1.25" fill="#c0000c"/>
<circle cx="315.1" cy="410.5" r="1.25" fill="#c0000c"/>
<circle cx="316.7" cy="410.8" r="1.25" fill="#c0000c"/>
<circle cx="308.2" cy="413.0" r="1.25" fill="#c0000c"/>
<circle cx="310.2" cy="412.7" r="1.25" fill="#c0000c"/>
<circle cx="315.1" cy="413.0" r="1.25" fill="#c0000c"/>
<circle cx="316.7" cy="413.2" r="1.25" fill="#c0000c"/>
<circle cx="303.8" cy="414.5" r="1.25" fill="#c0000c"/>
<circle cx="305.8" cy="414.7" r="1.25" fill="#c0000c"/>
<circle cx="312.1" cy="414.5" r="1.25" fill="#c0000c"/>
<circle cx="302.3" cy="415.9" r="1.25" fill="#c0000c"/>
<circle cx="308.2" cy="416.2" r="1.25" fill="#c0000c"/>
<circle cx="310.2" cy="415.9" r="1.25" fill="#c0000c"/>
<circle cx="303.8" cy="417.1" r="1.25" fill="#c0000c"/>
<circle cx="306.3" cy="417.4" r="1.25" fill="#c0000c"/>
<circle cx="312.1" cy="417.1" r="1.25" fill="#c0000c"/>
<circle cx="315.1" cy="417.4" r="1.25" fill="#c0000c"/>
<circle cx="316.7" cy="416.9" r="1.25" fill="#c0000c"/>
<circle cx="301.8" cy="418.9" r="1.25" fill="#c0000c"/>
<circle cx="303.8" cy="419.2" r="1.25" fill="#c0000c"/>
<circle cx="312.1" cy="418.9" r="1.25" fill="#c0000c"/>
<circle cx="310.2" cy="420.8" r="1.25" fill="#c0000c"/>
<circle cx="309.7" cy="424.5" r="1.25" fill="#c0000c"/>
<circle cx="311.6" cy="423.8" r="1.25" fill="#c0000c"/>
<circle cx="310.2" cy="431.6" r="1.25" fill="#c0000c"/>
<circle cx="310.2" cy="449.2" r="1.25" fill="#c0000c"/>
<path d="M272.2 401.25 H295.8" stroke="#000" stroke-width="1.3"/>
<path d="M298.2 406.75 H322.1" stroke="#000" stroke-width="1.3"/>
<path d="M323.7 394.05 H347.2" stroke="#000" stroke-width="1.3"/>
<path d="M349.6 378.2 H373.6" stroke="#000" stroke-width="1.3"/>
</svg>
</body>
</html>
